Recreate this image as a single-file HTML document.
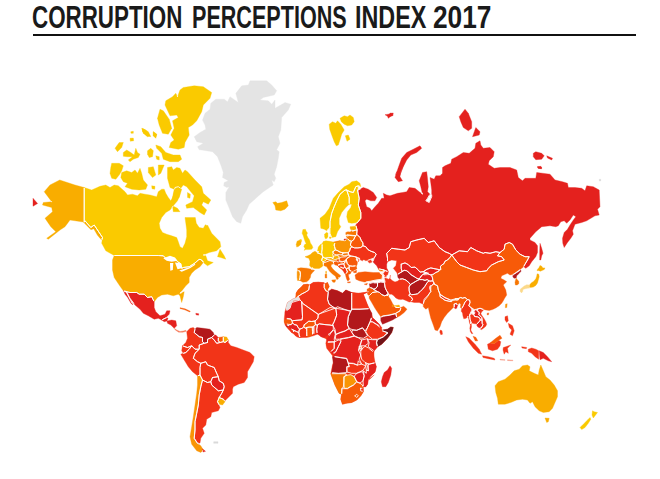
<!DOCTYPE html>
<html><head><meta charset="utf-8">
<style>
html,body{margin:0;padding:0;background:#fff;}
body{width:660px;height:479px;overflow:hidden;position:relative;font-family:"Liberation Sans",sans-serif;}
.w{position:absolute;top:0;font-weight:bold;font-size:31px;line-height:36px;color:#1a1a1a;white-space:nowrap;transform-origin:0 0;}
#u{position:absolute;left:33px;top:34px;width:603px;height:2px;background:#111}
#m{position:absolute;left:0;top:0}
</style></head><body>
<div class="w" style="left:32px;transform:scaleX(0.7215)">CORRUPTION</div>
<div class="w" style="left:192px;transform:scaleX(0.696)">PERCEPTIONS</div>
<div class="w" style="left:354.5px;transform:scaleX(0.754)">INDEX</div>
<div class="w" style="left:433px;transform:scaleX(0.848)">2017</div>
<div id="u"></div>
<svg id="m" width="660" height="479" viewBox="0 0 660 479">
<path d="M84.2,187.5 84.2,222.5 85.0,220.8 90.8,227.5 94.2,225.0 102.5,237.5 101.3,239.7 97.5,235.3 93.7,228.7 91.0,229.7 87.0,225.8 83.3,222.0 70.0,220.0 65.0,226.7 60.0,230.0 48.3,239.2 46.7,238.3 55.8,231.7 50.8,226.7 45.0,218.3 52.5,211.7 51.7,207.5 42.5,205.0 43.3,202.5 51.7,201.7 44.2,191.7 50.0,185.0 59.7,180.0 75.0,185.0Z" fill="#f9ad00" stroke="#f9ad00" stroke-width="0.35" stroke-linejoin="round"/>
<path d="M33.0,198.3 37.6,203.5 33.0,206.2Z" fill="#e4211e" stroke="#e4211e" stroke-width="0.35" stroke-linejoin="round"/>
<path d="M84.2,187.5 84.2,222.5 85.0,220.8 90.8,227.5 94.2,225.0 102.5,237.5 101.7,243.3 105.8,250.8 114.2,255.5 158.3,255.5 163.3,255.8 166.7,259.2 175.0,259.2 177.5,261.7 180.8,263.7 181.7,268.3 183.3,267.5 189.2,266.7 195.0,263.0 198.3,260.0 200.0,259.2 202.5,260.8 203.3,262.5 207.5,265.8 213.3,262.5 207.5,260.8 205.8,255.8 203.3,255.0 209.2,252.5 216.7,250.8 220.8,246.7 220.0,241.7 211.7,233.3 207.5,225.0 207.5,225.8 205.3,224.7 203.3,228.3 199.2,227.5 196.3,223.3 195.3,217.5 190.0,217.5 185.0,217.5 185.8,223.3 186.7,230.0 186.7,236.7 185.0,243.3 182.5,248.3 180.0,246.7 178.3,241.7 176.7,237.5 171.7,235.8 166.7,234.2 162.5,232.5 160.0,228.3 159.2,223.3 161.7,217.5 165.8,212.5 170.0,210.0 173.3,205.8 177.5,200.8 180.0,195.0 181.7,189.2 178.3,186.7 175.0,187.5 174.2,191.7 172.5,197.5 170.8,200.8 168.3,197.5 165.8,193.3 164.2,189.2 161.7,189.2 158.3,191.7 156.7,196.7 150.0,195.0 145.0,194.2 140.0,193.3 137.5,195.8 132.5,194.2 127.5,195.0 125.0,191.7 118.3,185.8 114.2,185.0 110.0,187.5 105.8,185.0 100.0,186.3 91.7,190.0Z" fill="#faca00" stroke="#faca00" stroke-width="0.35" stroke-linejoin="round"/>
<path d="M220.0,249.2 224.2,255.8 225.8,259.2 220.8,257.5 217.5,256.7Z" fill="#faca00" stroke="#faca00" stroke-width="0.35" stroke-linejoin="round"/>
<path d="M114.2,255.5 158.3,255.5 163.3,255.8 166.7,259.2 175.0,259.2 177.5,261.7 180.8,263.7 181.7,268.3 183.3,267.5 189.2,266.7 195.0,263.0 198.3,260.0 200.0,259.2 202.5,260.8 203.3,262.5 200.0,266.7 195.0,270.0 191.7,273.3 189.2,277.5 189.2,282.5 185.8,285.8 182.5,290.0 180.0,293.3 184.2,291.7 183.3,296.7 181.7,302.5 180.0,295.8 178.3,294.2 173.3,295.8 167.5,294.2 161.7,295.0 157.5,297.5 154.2,301.7 151.7,296.7 147.5,297.5 144.2,294.2 139.2,294.2 136.7,292.5 130.0,292.5 123.3,290.8 123.3,290.8 119.2,285.0 114.2,277.5 112.5,270.0 112.5,260.0 114.2,255.5Z" fill="#f9ad00" stroke="#f9ad00" stroke-width="0.35" stroke-linejoin="round"/>
<path d="M123.3,290.8 130.0,292.5 136.7,292.5 139.2,294.2 144.2,294.2 147.5,297.5 151.7,296.7 154.2,301.7 154.2,307.5 155.8,311.7 160.0,315.8 165.0,314.2 166.7,310.8 170.0,310.8 169.2,314.2 166.7,316.7 165.8,318.0 161.7,320.0 158.3,318.3 154.2,319.2 148.3,315.8 143.3,313.3 140.0,309.2 135.0,305.0 130.0,298.3 126.7,291.7Z" fill="#e4211e" stroke="#e4211e" stroke-width="0.35" stroke-linejoin="round"/>
<path d="M123.8,291.3 126.2,292.0 130.8,300.8 132.8,305.0 130.8,303.0 127.5,297.2 125.0,294.2Z" fill="#e4211e" stroke="#e4211e" stroke-width="0.35" stroke-linejoin="round"/>
<path d="M161.7,320.0 165.8,318.0 168.0,318.0 167.0,321.0 164.2,321.7Z" fill="#e4211e" stroke="#e4211e" stroke-width="0.35" stroke-linejoin="round"/>
<path d="M167.0,321.0 171.7,320.0 175.8,320.8 176.7,325.8 174.2,328.3 170.8,325.0 167.5,323.3Z" fill="#e4211e" stroke="#e4211e" stroke-width="0.35" stroke-linejoin="round"/>
<path d="M174.2,328.3 176.7,330.0 180.0,331.5 183.3,331.0 185.8,330.3 186.3,331.3 182.7,332.3 178.7,332.2 175.3,330.0Z" fill="#f57a5a" stroke="#f57a5a" stroke-width="0.35" stroke-linejoin="round"/>
<path d="M180.0,307.7 185.0,308.8 190.3,311.2 189.7,312.0 184.7,309.8 180.0,308.5Z" fill="#f75a08" stroke="#f75a08" stroke-width="0.35" stroke-linejoin="round"/>
<path d="M195.8,313.3 198.8,313.8 198.5,315.2 196.0,314.8Z" fill="#e4211e" stroke="#e4211e" stroke-width="0.35" stroke-linejoin="round"/>
<path d="M183.3,87.5 194.2,85.8 203.3,86.7 211.7,92.5 210.0,98.3 203.3,105.0 201.7,111.7 196.7,120.8 192.5,125.0 188.3,127.5 189.2,135.0 185.0,142.5 184.2,147.5 178.3,149.2 169.2,147.5 170.8,142.5 174.2,140.0 170.8,135.0 174.2,128.3 172.5,120.8 178.3,117.5 176.7,115.0 170.0,115.8 165.0,105.0 165.8,100.8 172.5,96.7 175.8,93.3 177.5,96.7 180.0,90.0Z" fill="#faca00" stroke="#faca00" stroke-width="0.35" stroke-linejoin="round"/>
<path d="M160.0,109.2 163.3,110.8 169.2,119.2 171.7,128.3 168.3,134.2 162.5,133.3 159.2,125.0 157.5,118.3Z" fill="#faca00" stroke="#faca00" stroke-width="0.35" stroke-linejoin="round"/>
<path d="M142.5,128.3 148.3,131.7 150.8,136.7 146.7,135.8 142.5,131.7Z" fill="#faca00" stroke="#faca00" stroke-width="0.35" stroke-linejoin="round"/>
<path d="M153.3,131.7 156.7,134.2 155.8,137.5 153.3,135.8Z" fill="#faca00" stroke="#faca00" stroke-width="0.35" stroke-linejoin="round"/>
<path d="M115.0,148.3 119.2,142.5 123.3,142.5 121.7,147.5 117.5,151.7Z" fill="#faca00" stroke="#faca00" stroke-width="0.35" stroke-linejoin="round"/>
<path d="M123.3,152.5 126.7,150.0 130.8,152.5 134.2,155.0 135.8,148.3 137.5,152.5 140.0,154.2 138.3,157.5 133.3,159.2 130.0,161.7 128.3,160.0 132.5,156.7 127.5,156.7 123.3,156.3Z" fill="#faca00" stroke="#faca00" stroke-width="0.35" stroke-linejoin="round"/>
<path d="M130.0,138.3 133.3,138.0 133.7,140.8 130.3,141.2Z" fill="#faca00" stroke="#faca00" stroke-width="0.35" stroke-linejoin="round"/>
<path d="M130.8,131.7 133.3,131.3 133.3,133.3 131.0,133.3Z" fill="#faca00" stroke="#faca00" stroke-width="0.35" stroke-linejoin="round"/>
<path d="M111.7,163.3 119.2,163.3 123.3,165.8 121.7,170.8 119.2,175.0 115.8,179.2 111.7,178.3 110.0,173.3 110.8,167.5Z" fill="#faca00" stroke="#faca00" stroke-width="0.35" stroke-linejoin="round"/>
<path d="M121.7,172.5 126.7,170.8 131.7,172.5 135.0,170.0 137.5,173.3 140.0,168.3 141.7,173.3 143.3,180.0 147.5,185.0 145.8,189.2 139.2,190.0 131.7,189.2 125.0,186.7 127.5,183.3 123.3,181.7 120.8,177.5Z" fill="#faca00" stroke="#faca00" stroke-width="0.35" stroke-linejoin="round"/>
<path d="M147.5,150.8 150.8,148.3 153.3,150.8 152.5,156.7 149.2,157.5 147.5,154.2Z" fill="#faca00" stroke="#faca00" stroke-width="0.35" stroke-linejoin="round"/>
<path d="M155.8,155.8 159.2,156.7 159.2,160.0 156.7,159.2Z" fill="#faca00" stroke="#faca00" stroke-width="0.35" stroke-linejoin="round"/>
<path d="M155.8,145.0 160.8,146.7 165.8,152.5 173.3,155.0 180.0,155.0 181.7,159.2 178.3,161.7 170.0,161.7 163.3,159.2 161.7,153.3 156.7,148.3Z" fill="#faca00" stroke="#faca00" stroke-width="0.35" stroke-linejoin="round"/>
<path d="M141.7,128.3 145.8,130.0 150.0,135.8 147.5,136.7 143.3,133.3Z" fill="#faca00" stroke="#faca00" stroke-width="0.35" stroke-linejoin="round"/>
<path d="M153.3,131.7 156.7,134.2 155.8,138.3 153.3,135.8Z" fill="#faca00" stroke="#faca00" stroke-width="0.35" stroke-linejoin="round"/>
<path d="M148.3,167.5 153.3,166.7 155.8,175.0 152.5,177.5 148.3,172.5Z" fill="#faca00" stroke="#faca00" stroke-width="0.35" stroke-linejoin="round"/>
<path d="M158.3,165.0 164.2,165.0 160.8,173.3 158.3,175.0Z" fill="#faca00" stroke="#faca00" stroke-width="0.35" stroke-linejoin="round"/>
<path d="M151.7,185.8 155.0,186.3 154.7,189.2 152.0,188.8Z" fill="#faca00" stroke="#faca00" stroke-width="0.35" stroke-linejoin="round"/>
<path d="M167.5,167.5 171.7,166.7 173.3,170.0 176.7,167.5 180.0,168.3 182.5,173.3 185.0,170.0 187.5,171.7 195.0,180.0 201.7,186.7 203.3,193.3 210.8,200.0 208.3,204.2 203.3,201.7 201.7,205.0 206.7,210.0 204.2,215.0 200.0,212.5 196.7,210.0 193.3,207.5 186.7,208.3 185.8,205.0 192.5,201.7 194.2,195.8 190.0,190.8 186.7,186.7 183.3,185.0 180.0,189.2 179.2,197.5 175.0,200.0 172.5,198.3 174.2,189.2 170.0,187.5 167.5,178.3Z" fill="#faca00" stroke="#faca00" stroke-width="0.35" stroke-linejoin="round"/>
<path d="M187.5,192.5 190.3,194.2 190.0,198.3 187.5,197.5Z" fill="#faca00" stroke="#faca00" stroke-width="0.35" stroke-linejoin="round"/>
<path d="M172.5,205.8 177.5,208.3 180.0,211.7 173.3,211.7Z" fill="#faca00" stroke="#faca00" stroke-width="0.35" stroke-linejoin="round"/>
<path d="M210.8,103.3 215.8,99.2 224.2,99.2 227.5,101.7 230.0,96.7 238.3,102.5 235.8,93.3 241.7,85.8 248.3,85.0 250.0,80.8 266.7,80.8 271.7,85.0 276.7,90.8 274.2,95.0 263.3,97.5 260.0,100.0 268.3,100.8 271.7,104.2 275.0,100.0 275.0,108.3 285.0,102.5 290.8,104.2 288.3,110.0 281.7,117.5 280.8,130.0 278.3,136.7 280.0,143.3 276.7,149.8 279.2,151.7 278.3,158.3 276.7,166.7 274.2,174.2 275.8,178.3 274.2,181.7 271.7,180.0 273.3,185.0 263.3,191.7 256.7,197.5 249.2,204.2 246.7,210.0 242.5,216.7 240.8,223.3 236.7,221.7 232.5,216.7 229.2,208.3 225.8,200.0 225.8,192.5 229.2,186.7 226.7,187.5 223.7,185.8 224.2,182.5 228.3,180.8 222.5,177.5 223.3,172.5 220.8,165.0 217.5,156.7 212.5,151.7 201.7,150.0 199.2,149.8 197.5,146.7 203.3,143.3 196.7,141.7 194.2,136.7 200.0,132.5 205.8,129.2 205.0,125.0 202.5,120.0 205.0,113.3 210.0,109.2Z" fill="#e4e4e4" stroke="#e4e4e4" stroke-width="0.35" stroke-linejoin="round"/>
<path d="M272.8,202.5 275.8,201.7 277.5,203.3 281.7,202.5 286.7,200.8 288.3,205.8 285.0,209.2 280.8,210.8 275.8,210.0 275.0,205.8Z" fill="#f9ad00" stroke="#f9ad00" stroke-width="0.35" stroke-linejoin="round"/>
<path d="M207.5,342.5 207.5,339.2 211.7,337.5 214.2,340.0 216.7,343.3 220.0,342.5 223.3,341.7 225.0,342.5 228.3,340.0 228.3,342.5 230.8,345.8 236.7,347.5 243.3,350.0 250.0,352.5 254.2,356.7 253.3,361.7 250.0,367.5 247.5,371.7 247.5,377.5 244.2,382.5 238.3,384.2 233.3,386.7 232.5,389.2 232.5,393.3 228.3,397.5 225.0,400.8 223.3,399.2 219.2,397.5 221.7,393.3 223.3,390.0 224.2,386.7 223.3,383.3 219.2,380.8 218.3,376.7 216.7,373.3 214.2,367.5 207.5,365.0 205.8,361.7 200.8,363.3 197.5,361.7 193.3,358.3 195.0,353.3 199.2,349.2 199.2,345.0 204.2,343.3Z" fill="#f23418" stroke="#f23418" stroke-width="0.35" stroke-linejoin="round"/>
<path d="M186.7,331.7 190.0,328.3 193.3,327.5 195.0,329.2 194.2,332.5 199.2,336.7 202.5,337.5 202.5,341.7 204.2,343.3 199.2,345.0 199.2,349.2 195.0,349.2 191.7,345.8 187.5,347.5 182.5,345.8 185.8,342.5 187.5,338.3Z" fill="#f23418" stroke="#f23418" stroke-width="0.35" stroke-linejoin="round"/>
<path d="M195.0,329.2 196.7,327.5 203.3,328.3 210.0,329.2 213.3,332.5 214.2,335.0 211.7,337.5 207.5,339.2 207.5,342.5 204.2,343.3 202.5,341.7 202.5,337.5 199.2,336.7 194.2,332.5Z" fill="#b2181b" stroke="#b2181b" stroke-width="0.35" stroke-linejoin="round"/>
<path d="M214.2,335.0 215.8,335.0 218.3,337.5 218.3,340.8 220.0,342.5 216.7,343.3 214.2,340.0 211.7,337.5Z" fill="#e4211e" stroke="#e4211e" stroke-width="0.35" stroke-linejoin="round"/>
<path d="M218.3,337.5 223.3,336.7 223.3,341.7 220.0,342.5 218.3,340.8Z" fill="#f75a08" stroke="#f75a08" stroke-width="0.35" stroke-linejoin="round"/>
<path d="M223.3,336.7 226.7,337.0 228.3,340.0 225.0,342.5 223.3,341.7Z" fill="#f9ad00" stroke="#f9ad00" stroke-width="0.35" stroke-linejoin="round"/>
<path d="M182.5,345.8 187.5,347.5 191.7,345.8 189.2,349.2 185.8,352.5 183.3,353.3 181.7,350.8Z" fill="#f23418" stroke="#f23418" stroke-width="0.35" stroke-linejoin="round"/>
<path d="M183.3,353.3 185.8,352.5 189.2,349.2 191.7,345.8 195.0,349.2 199.2,349.2 195.0,353.3 193.3,358.3 197.5,361.7 200.8,363.3 200.0,367.5 200.0,375.0 197.5,375.8 192.5,371.7 188.3,366.7 184.2,360.0 180.8,354.2Z" fill="#f23418" stroke="#f23418" stroke-width="0.35" stroke-linejoin="round"/>
<path d="M200.8,363.3 205.8,361.7 207.5,365.0 214.2,367.5 216.7,373.3 218.3,376.7 212.5,377.5 210.8,381.7 207.5,382.5 202.5,380.0 200.0,375.0 200.0,367.5Z" fill="#f23418" stroke="#f23418" stroke-width="0.35" stroke-linejoin="round"/>
<path d="M212.5,377.5 218.3,376.7 219.2,380.8 223.3,383.3 224.2,386.7 223.3,390.0 218.3,390.8 211.7,385.0 210.8,381.7Z" fill="#e4211e" stroke="#e4211e" stroke-width="0.35" stroke-linejoin="round"/>
<path d="M197.5,375.8 200.0,375.0 202.5,380.0 200.8,386.7 199.2,395.0 198.3,405.0 196.7,413.3 195.0,421.7 195.0,430.0 194.2,438.3 197.5,443.3 200.8,445.8 203.3,450.0 200.8,452.5 196.7,450.8 191.7,444.2 190.0,436.7 191.7,426.7 193.3,416.7 195.0,405.0 196.7,393.3 197.5,385.0Z" fill="#f99505" stroke="#f99505" stroke-width="0.35" stroke-linejoin="round"/>
<path d="M202.5,380.0 207.5,382.5 210.8,381.7 210.8,381.7 211.7,385.0 218.3,390.8 223.3,390.0 221.7,393.3 219.2,397.5 217.5,401.7 220.0,407.5 218.3,410.8 211.7,412.5 210.8,416.7 206.7,419.2 205.8,425.0 202.5,428.3 204.2,433.3 200.8,438.3 200.0,443.0 197.5,443.3 194.2,438.3 195.0,430.0 195.0,421.7 196.7,413.3 198.3,405.0 199.2,395.0 200.8,386.7Z" fill="#f23418" stroke="#f23418" stroke-width="0.35" stroke-linejoin="round"/>
<path d="M219.2,397.5 223.3,399.2 225.0,401.7 222.5,405.0 219.2,404.2 217.5,401.7Z" fill="#f9ad00" stroke="#f9ad00" stroke-width="0.35" stroke-linejoin="round"/>
<path d="M202.5,448.8 205.5,451.3 203.0,452.0Z" fill="#e4211e" stroke="#e4211e" stroke-width="0.35" stroke-linejoin="round"/>
<path d="M213.7,441.7 218.0,441.7 218.0,443.3 213.7,443.3Z" fill="#d9d9d9" stroke="#d9d9d9" stroke-width="0.35" stroke-linejoin="round"/>
<path d="M355.8,225.0 357.5,222.5 360.8,218.3 360.8,212.5 358.3,205.0 359.2,198.3 357.5,190.0 358.3,190.0 363.3,187.5 368.3,189.2 373.3,192.5 376.7,197.5 375.0,200.8 370.8,200.8 366.7,199.2 365.0,200.8 366.7,206.7 370.0,208.3 371.7,210.8 375.0,206.7 378.3,203.3 381.7,198.3 384.2,198.3 383.3,193.3 386.7,195.0 390.0,195.8 397.5,193.3 402.5,192.5 406.7,191.7 409.2,187.5 415.0,188.3 419.2,191.7 422.5,194.2 420.8,186.7 419.2,180.8 422.5,172.5 426.7,171.7 427.5,178.3 428.3,186.7 427.5,191.7 430.0,194.2 427.5,198.3 425.8,200.8 429.2,202.5 431.7,196.7 431.7,190.0 430.8,183.3 430.0,177.5 434.2,179.2 435.8,175.8 440.0,175.8 442.5,173.3 442.5,167.5 445.0,165.8 450.8,163.3 451.7,159.2 456.7,156.7 463.3,152.5 469.2,153.3 475.0,148.3 475.8,143.3 480.0,140.8 480.8,145.0 483.3,148.3 490.0,147.5 494.2,151.7 493.3,156.7 489.2,160.8 488.3,164.2 494.2,168.3 500.0,167.5 510.0,167.5 516.7,170.0 518.3,177.5 522.5,180.8 525.0,178.3 535.8,178.3 536.7,172.5 550.0,174.2 555.0,180.0 562.5,181.7 567.5,183.3 568.3,187.5 575.0,187.5 581.7,188.3 585.0,190.8 586.7,185.8 593.3,186.7 599.2,190.0 600.0,206.7 597.5,209.2 599.2,215.0 595.0,215.8 586.7,220.8 581.7,222.5 575.0,224.2 572.5,230.8 573.3,234.2 570.8,238.3 567.5,242.5 564.2,247.5 562.8,243.3 562.5,238.3 564.2,232.5 567.5,229.2 570.0,225.0 573.3,220.0 575.8,216.7 573.3,215.0 570.0,220.0 566.7,223.3 564.2,220.8 560.8,221.7 558.3,225.8 555.8,226.7 550.0,225.8 541.7,226.7 535.8,231.7 530.0,238.3 530.0,240.0 535.0,242.5 537.5,245.8 537.5,252.5 535.8,256.7 531.7,261.7 529.2,265.8 525.8,268.3 523.7,266.7 525.0,264.2 527.5,260.0 529.2,256.7 525.0,256.7 520.0,254.2 515.8,250.0 512.5,244.2 509.2,242.5 505.0,244.2 504.2,249.2 500.0,252.5 495.8,251.7 490.0,253.3 485.0,252.5 483.3,253.3 476.7,250.8 470.8,247.5 467.5,251.7 459.2,250.8 451.7,255.0 449.2,253.3 445.0,251.7 439.2,247.5 434.2,240.8 428.3,242.5 424.2,238.3 416.7,240.0 410.8,241.7 409.2,247.5 405.0,250.0 398.3,249.2 391.7,248.3 386.7,253.3 387.5,258.3 387.5,261.7 386.7,264.2 386.7,268.3 388.3,271.7 385.8,270.8 383.8,270.0 380.4,269.2 378.3,268.8 376.7,265.8 374.2,263.3 372.9,261.7 374.2,258.3 375.0,256.7 376.2,254.2 374.6,252.5 370.8,251.2 367.9,249.6 365.8,246.7 362.9,245.8 362.9,242.9 361.2,240.4 360.0,237.5 358.3,235.8 356.7,234.2 357.1,230.0 355.8,225.0Z" fill="#e4211e" stroke="#e4211e" stroke-width="0.35" stroke-linejoin="round"/>
<path d="M420.0,145.8 421.7,148.3 416.7,152.5 410.8,155.0 406.7,160.0 403.3,166.7 400.0,174.8 403.3,165.0 400.8,171.7 400.0,176.7 402.5,180.8 398.3,181.7 395.0,177.5 396.7,171.7 395.8,174.8 399.2,165.0 401.7,158.3 406.7,152.5 413.3,149.2Z" fill="#e4211e" stroke="#e4211e" stroke-width="0.35" stroke-linejoin="round"/>
<path d="M459.2,116.7 465.0,109.2 468.3,113.3 471.7,121.7 471.7,128.3 468.3,130.8 463.3,127.5 460.8,121.7Z" fill="#e4211e" stroke="#e4211e" stroke-width="0.35" stroke-linejoin="round"/>
<path d="M472.5,136.7 475.8,127.5 480.0,131.7 479.2,135.0Z" fill="#e4211e" stroke="#e4211e" stroke-width="0.35" stroke-linejoin="round"/>
<path d="M533.3,153.3 535.8,151.7 541.7,153.3 544.2,155.8 541.7,159.2 535.8,159.7 533.3,156.7Z" fill="#e4211e" stroke="#e4211e" stroke-width="0.35" stroke-linejoin="round"/>
<path d="M546.7,155.8 552.5,158.3 551.7,160.0 547.5,158.0Z" fill="#e4211e" stroke="#e4211e" stroke-width="0.35" stroke-linejoin="round"/>
<path d="M537.5,166.7 540.8,166.3 541.7,168.7 538.3,168.3Z" fill="#e4211e" stroke="#e4211e" stroke-width="0.35" stroke-linejoin="round"/>
<path d="M537.5,166.7 541.7,167.0 541.3,168.7 538.0,168.3Z" fill="#e4211e" stroke="#e4211e" stroke-width="0.35" stroke-linejoin="round"/>
<path d="M540.0,243.3 541.7,248.3 543.0,253.3 541.7,255.8 540.8,260.0 539.7,260.0 539.7,251.7Z" fill="#e4211e" stroke="#e4211e" stroke-width="0.35" stroke-linejoin="round"/>
<path d="M385.0,114.7 388.3,114.2 390.8,113.3 393.3,115.0 390.8,116.3 388.3,118.3 387.5,116.3Z" fill="#e4211e" stroke="#e4211e" stroke-width="0.35" stroke-linejoin="round"/>
<path d="M390.0,113.3 393.3,113.0 392.5,115.8 390.0,116.3Z" fill="#e4211e" stroke="#e4211e" stroke-width="0.35" stroke-linejoin="round"/>
<path d="M599.3,179.3 600.7,179.3 600.7,181.0 599.3,181.0Z" fill="#d8d8d8" stroke="#d8d8d8" stroke-width="0.35" stroke-linejoin="round"/>
<path d="M329.2,124.2 332.5,121.7 335.8,123.3 337.5,120.8 340.8,124.2 344.2,130.0 341.7,134.2 340.0,140.0 338.3,145.0 336.3,145.8 334.2,141.7 331.7,135.0 329.7,129.2Z" fill="#faca00" stroke="#faca00" stroke-width="0.35" stroke-linejoin="round"/>
<path d="M340.0,118.3 344.2,115.8 347.5,116.7 350.0,115.0 353.3,117.5 354.2,121.7 351.7,125.0 347.5,125.8 344.2,124.2 341.3,121.7Z" fill="#faca00" stroke="#faca00" stroke-width="0.35" stroke-linejoin="round"/>
<path d="M345.3,135.8 348.3,135.0 350.0,139.2 347.0,141.3Z" fill="#faca00" stroke="#faca00" stroke-width="0.35" stroke-linejoin="round"/>
<path d="M451.7,255.0 449.2,253.3 445.0,251.7 439.2,247.5 434.2,240.8 428.3,242.5 424.2,238.3 416.7,240.0 410.8,241.7 409.2,247.5 405.0,250.0 398.3,249.2 391.7,248.3 386.7,253.3 387.5,258.3 387.5,261.7 391.7,260.0 396.7,260.8 395.8,265.8 393.3,268.3 396.7,272.5 397.5,274.3 400.0,272.9 402.1,271.5 401.2,268.3 401.2,264.2 405.0,262.9 408.3,264.6 411.2,267.5 415.0,267.1 417.9,269.6 420.0,272.1 423.3,271.7 427.1,269.2 430.8,267.9 435.0,268.8 439.2,269.6 440.8,269.6 440.4,266.7 441.7,265.0 443.8,263.8 445.0,261.2 447.5,260.0 449.9,257.5Z" fill="#f23418" stroke="#f23418" stroke-width="0.35" stroke-linejoin="round"/>
<path d="M451.7,255.0 459.2,250.8 467.5,251.7 470.8,247.5 476.7,250.8 483.3,253.3 485.0,252.5 490.0,253.3 495.8,251.7 500.0,252.5 497.5,255.8 501.7,256.7 504.2,260.0 498.3,261.7 491.7,265.0 488.3,268.3 486.7,270.8 480.0,271.7 473.3,270.0 466.7,267.5 460.0,265.0 456.7,261.7 454.2,258.3Z" fill="#f23418" stroke="#f23418" stroke-width="0.35" stroke-linejoin="round"/>
<path d="M434.2,283.3 432.9,280.8 432.5,277.9 431.7,275.8 433.3,274.2 435.8,272.5 438.8,271.2 439.2,270.0 440.8,269.6 440.4,266.7 441.7,265.0 443.8,263.8 445.0,261.2 447.5,260.0 449.9,257.5 451.7,255.0 454.2,258.3 456.7,261.7 460.0,265.0 466.7,267.5 473.3,270.0 480.0,271.7 486.7,270.8 488.3,268.3 491.7,265.0 498.3,261.7 504.2,260.0 501.7,256.7 497.5,255.8 500.0,252.5 504.2,249.2 505.0,244.2 509.2,242.5 512.5,244.2 515.8,250.0 520.0,254.2 525.0,256.7 529.2,256.7 527.5,260.0 525.0,264.2 523.7,266.7 521.7,268.3 518.3,270.8 515.0,273.3 513.3,274.2 510.0,275.0 507.5,273.3 501.7,275.8 500.8,278.3 504.2,280.0 506.7,281.7 505.0,283.3 503.3,285.0 505.8,290.0 506.7,295.0 504.6,298.3 503.3,300.8 501.7,303.3 499.2,305.8 495.8,307.9 492.5,309.6 489.2,310.4 485.8,310.0 482.9,309.2 480.0,308.2 477.5,309.0 475.8,309.4 474.2,309.6 471.2,307.5 468.8,305.8 470.0,302.5 469.6,300.0 467.5,299.6 465.0,297.5 462.5,298.2 460.8,297.5 458.3,298.5 455.4,298.8 450.8,300.0 445.0,297.5 440.0,294.2 438.3,290.0 437.5,285.8 433.3,283.7Z" fill="#f75a08" stroke="#f75a08" stroke-width="0.35" stroke-linejoin="round"/>
<path d="M487.1,313.3 488.8,312.9 488.5,314.8 487.2,314.9Z" fill="#f75a08" stroke="#f75a08" stroke-width="0.35" stroke-linejoin="round"/>
<path d="M505.5,304.2 507.2,303.7 506.8,307.5 505.3,307.7Z" fill="#f99505" stroke="#f99505" stroke-width="0.35" stroke-linejoin="round"/>
<path d="M512.9,275.4 514.6,273.8 516.7,272.5 518.8,271.2 520.4,270.0 521.2,271.2 520.0,272.3 518.3,274.2 516.7,275.8 516.2,277.9 514.2,278.3 512.9,277.1Z" fill="#b2181b" stroke="#b2181b" stroke-width="0.35" stroke-linejoin="round"/>
<path d="M515.4,280.4 516.2,278.2 517.1,279.6 518.8,281.2 518.8,283.8 517.1,285.0 515.4,285.0 515.0,282.5Z" fill="#f77602" stroke="#f77602" stroke-width="0.35" stroke-linejoin="round"/>
<path d="M538.8,267.9 540.0,265.4 541.7,266.2 542.9,267.9 545.0,267.9 544.2,269.6 542.1,270.4 540.4,271.2 538.3,270.4 537.1,270.8 537.5,269.2Z" fill="#f9ad00" stroke="#f9ad00" stroke-width="0.35" stroke-linejoin="round"/>
<path d="M537.1,273.8 538.8,274.2 539.2,276.7 538.3,280.0 537.5,282.9 535.8,285.4 533.3,287.1 530.4,287.5 529.2,286.5 529.6,285.0 531.2,282.9 533.8,281.2 535.8,278.8 536.7,276.2Z" fill="#f9ad00" stroke="#f9ad00" stroke-width="0.35" stroke-linejoin="round"/>
<path d="M529.6,285.0 526.7,284.8 524.2,286.0 522.1,287.7 520.4,289.0 520.0,291.2 521.5,292.9 522.7,291.5 522.9,289.6 525.0,288.8 527.5,288.3 530.0,287.9 529.2,286.5Z" fill="#fbd98a" stroke="#fbd98a" stroke-width="0.35" stroke-linejoin="round"/>
<path d="M423.3,303.3 424.2,299.2 427.5,295.8 430.8,291.7 430.8,286.7 433.3,283.7 437.5,285.8 438.3,290.0 440.0,294.2 440.0,296.7 445.0,300.3 451.2,301.7 451.7,301.3 453.0,300.3 455.7,300.0 458.3,299.8 458.3,298.5 460.8,297.5 462.5,298.2 465.0,297.5 467.5,299.6 465.0,302.1 463.3,305.8 461.7,308.8 460.4,307.5 460.8,304.2 459.2,302.9 457.5,305.4 456.2,303.3 454.2,304.2 454.2,306.7 453.3,307.5 450.8,310.0 447.5,313.3 444.2,317.5 441.7,321.7 440.0,326.7 437.5,330.8 435.0,330.0 433.3,325.0 430.8,318.3 429.2,311.7 428.3,307.5 425.8,309.2 423.3,306.7Z" fill="#f75a08" stroke="#f75a08" stroke-width="0.35" stroke-linejoin="round"/>
<path d="M440.0,294.5 445.0,297.8 450.8,300.3 451.2,301.7 445.0,300.3 440.0,296.7Z" fill="#f23418" stroke="#f23418" stroke-width="0.35" stroke-linejoin="round"/>
<path d="M455.4,298.8 458.3,298.5 458.3,299.8 455.7,300.0Z" fill="#f99505" stroke="#f99505" stroke-width="0.35" stroke-linejoin="round"/>
<path d="M454.2,304.2 456.2,303.3 457.5,305.4 456.7,308.3 455.0,308.8 454.2,306.7Z" fill="#e4211e" stroke="#e4211e" stroke-width="0.35" stroke-linejoin="round"/>
<path d="M440.3,330.0 442.0,330.8 442.5,334.2 440.8,334.7 439.7,332.0Z" fill="#f23418" stroke="#f23418" stroke-width="0.35" stroke-linejoin="round"/>
<path d="M429.2,280.8 429.6,281.2 432.5,280.8 434.2,283.3 431.7,285.8 430.0,285.8 429.6,288.3 430.8,291.7 430.0,292.5 427.5,296.7 424.2,300.8 423.3,304.2 419.2,302.5 414.2,302.5 410.8,301.7 412.5,299.5 411.7,297.5 408.7,295.3 410.0,293.7 411.7,294.7 415.3,294.3 417.5,293.8 420.0,291.7 422.5,289.2 424.6,286.7 426.2,284.2 427.1,282.5Z" fill="#f23418" stroke="#f23418" stroke-width="0.35" stroke-linejoin="round"/>
<path d="M410.4,284.6 413.3,282.9 416.2,281.2 419.6,279.6 422.5,279.6 425.0,280.4 427.1,279.6 429.2,280.8 427.1,282.5 426.2,284.2 424.6,286.7 422.5,289.2 420.0,291.7 417.5,293.8 415.3,294.3 411.7,294.7 410.0,293.7 409.2,290.8 409.0,287.0Z" fill="#b2181b" stroke="#b2181b" stroke-width="0.35" stroke-linejoin="round"/>
<path d="M397.5,274.6 400.0,272.9 402.1,271.7 404.2,270.4 406.7,270.8 408.8,272.5 411.2,275.0 414.2,276.7 416.7,278.3 419.2,279.2 416.2,281.0 413.3,282.8 410.4,284.6 408.8,282.5 405.8,280.0 402.5,278.8 399.6,279.2 397.9,277.5Z" fill="#b2181b" stroke="#b2181b" stroke-width="0.35" stroke-linejoin="round"/>
<path d="M401.2,264.2 405.0,262.9 408.3,264.6 411.2,267.5 415.0,267.1 417.9,269.6 420.0,272.1 423.3,271.7 426.7,272.9 422.5,274.6 420.8,276.7 419.2,279.0 416.7,278.2 414.2,276.5 411.2,274.8 408.8,272.3 406.7,270.7 404.2,270.2 402.1,271.5 401.2,268.3Z" fill="#e4211e" stroke="#e4211e" stroke-width="0.35" stroke-linejoin="round"/>
<path d="M423.3,271.7 427.1,269.2 430.8,267.9 435.0,268.8 439.2,269.6 439.2,270.0 438.8,271.2 435.8,272.5 433.3,274.2 430.0,274.8 428.3,273.9 426.7,272.9Z" fill="#e4211e" stroke="#e4211e" stroke-width="0.35" stroke-linejoin="round"/>
<path d="M420.8,276.7 422.5,274.6 426.7,272.9 428.3,273.9 430.0,274.8 431.7,275.8 432.5,277.9 432.9,280.8 429.6,281.2 429.2,280.8 427.1,279.6 425.0,280.4 422.5,279.6 419.6,279.6 419.2,279.0Z" fill="#e4211e" stroke="#e4211e" stroke-width="0.35" stroke-linejoin="round"/>
<path d="M423.5,272.7 428.2,272.2 429.0,274.6 424.3,275.3Z" fill="#f4a9a6" stroke="#f4a9a6" stroke-width="0.35" stroke-linejoin="round"/>
<path d="M369.2,295.8 372.5,292.5 377.5,291.7 379.6,292.5 381.7,294.6 384.6,295.8 387.1,295.0 388.5,296.5 390.4,299.2 391.7,301.7 392.9,304.2 395.0,306.7 395.8,305.8 395.8,307.5 400.0,307.5 400.8,308.3 400.0,310.8 395.8,313.3 389.2,315.0 383.3,315.8 380.8,316.7 378.3,313.3 375.0,308.3 371.7,302.5 369.2,298.3Z" fill="#f75a08" stroke="#f75a08" stroke-width="0.35" stroke-linejoin="round"/>
<path d="M367.0,289.2 370.0,287.5 372.5,288.3 373.3,289.2 377.5,291.7 372.5,292.5 369.2,295.8 367.5,294.2Z" fill="#f75a08" stroke="#f75a08" stroke-width="0.35" stroke-linejoin="round"/>
<path d="M369.2,283.7 373.3,282.5 373.8,282.9 377.5,282.9 377.5,286.2 375.4,288.8 373.3,289.2 372.5,288.3 370.0,287.5Z" fill="#b2181b" stroke="#b2181b" stroke-width="0.35" stroke-linejoin="round"/>
<path d="M377.5,282.9 380.8,282.1 383.8,282.5 384.6,283.8 385.0,287.1 386.2,290.0 387.9,292.9 387.1,295.0 384.6,295.8 381.7,294.6 379.6,292.5 377.5,291.7 373.3,289.2 375.4,288.8 377.5,286.2Z" fill="#b2181b" stroke="#b2181b" stroke-width="0.35" stroke-linejoin="round"/>
<path d="M387.1,294.8 388.8,295.0 388.5,296.5Z" fill="#f75a08" stroke="#f75a08" stroke-width="0.35" stroke-linejoin="round"/>
<path d="M383.8,278.3 385.4,277.9 388.8,279.2 390.0,277.9 390.4,275.0 390.0,278.3 392.1,280.6 395.0,281.9 397.9,281.1 399.6,279.2 402.5,278.8 405.8,280.0 408.8,282.5 410.4,284.6 409.0,287.1 409.2,290.8 410.0,293.8 408.8,295.4 411.7,297.5 412.5,299.6 410.8,301.7 409.2,302.1 405.8,300.4 402.9,299.2 400.8,299.6 398.3,299.2 395.8,297.9 393.8,295.8 391.7,294.2 389.6,294.2 387.9,292.9 386.2,290.0 385.0,287.1 384.6,283.8 385.0,281.2Z" fill="#f23418" stroke="#f23418" stroke-width="0.35" stroke-linejoin="round"/>
<path d="M394.2,305.8 399.2,305.0 400.0,307.5 395.8,307.5Z" fill="#f9ad00" stroke="#f9ad00" stroke-width="0.35" stroke-linejoin="round"/>
<path d="M400.8,307.5 403.7,306.3 407.0,309.2 404.2,312.5 400.0,315.8 396.7,317.5 395.8,313.3 400.0,310.8Z" fill="#f75a08" stroke="#f75a08" stroke-width="0.35" stroke-linejoin="round"/>
<path d="M380.8,317.5 383.3,316.2 389.2,315.3 395.8,313.7 396.7,317.5 392.5,320.0 386.7,322.5 382.5,324.2 380.8,320.8Z" fill="#b2181b" stroke="#b2181b" stroke-width="0.35" stroke-linejoin="round"/>
<path d="M392.0,305.0 393.3,304.7 393.7,306.7 392.3,306.7Z" fill="#f99505" stroke="#f99505" stroke-width="0.35" stroke-linejoin="round"/>
<path d="M355.0,275.0 358.3,272.5 365.0,271.7 373.3,272.5 379.2,272.5 382.5,275.0 382.0,279.2 375.8,280.0 370.0,281.3 364.2,282.0 359.2,280.8 355.8,279.2Z" fill="#f75a08" stroke="#f75a08" stroke-width="0.35" stroke-linejoin="round"/>
<path d="M353.3,270.8 356.7,270.3 356.3,272.7 353.7,272.7Z" fill="#f75a08" stroke="#f75a08" stroke-width="0.35" stroke-linejoin="round"/>
<path d="M378.3,268.8 380.4,269.2 383.8,270.0 384.2,271.7 381.7,271.7 379.2,270.4Z" fill="#f77602" stroke="#f77602" stroke-width="0.35" stroke-linejoin="round"/>
<path d="M383.8,270.0 385.8,270.8 388.3,271.7 386.7,268.3 388.3,272.5 387.5,275.0 384.2,276.7 386.7,276.8 384.2,275.6 382.9,273.8 384.2,271.7Z" fill="#f23418" stroke="#f23418" stroke-width="0.35" stroke-linejoin="round"/>
<path d="M364.2,284.2 367.5,283.3 366.7,285.0Z" fill="#f75a08" stroke="#f75a08" stroke-width="0.35" stroke-linejoin="round"/>
<path d="M461.7,308.8 463.3,305.8 465.0,302.1 467.5,299.6 469.6,300.0 470.0,302.5 468.8,305.8 470.8,307.5 472.1,310.0 470.8,312.1 469.6,315.0 470.0,319.2 470.8,321.7 470.4,325.0 469.6,323.3 468.8,319.2 467.9,316.2 466.2,318.3 463.8,318.8 462.9,315.8 462.5,312.9 461.2,311.2Z" fill="#f23418" stroke="#f23418" stroke-width="0.35" stroke-linejoin="round"/>
<path d="M469.6,315.0 471.2,313.8 473.8,314.6 474.6,316.5 477.5,316.8 479.6,317.9 480.4,320.0 479.2,321.7 477.1,323.8 475.0,323.8 472.5,323.3 471.2,322.5 471.5,326.7 470.8,330.0 471.8,332.1 472.9,333.5 471.8,333.8 470.4,331.7 469.8,328.3 470.4,325.0 470.8,321.7 470.0,319.2Z" fill="#f23418" stroke="#f23418" stroke-width="0.35" stroke-linejoin="round"/>
<path d="M473.8,311.2 475.8,309.6 477.5,310.8 479.3,312.9 478.8,314.6 480.0,315.8 481.7,317.5 482.1,320.0 480.4,320.0 479.6,317.9 477.5,316.8 474.6,316.5 473.8,314.6 475.0,312.9Z" fill="#e4211e" stroke="#e4211e" stroke-width="0.35" stroke-linejoin="round"/>
<path d="M477.5,309.2 480.0,308.3 482.5,309.2 483.3,310.4 481.7,311.7 480.8,313.8 482.1,315.8 484.2,318.8 485.8,321.7 486.7,324.2 485.8,326.2 483.8,327.9 481.7,329.6 480.4,329.2 482.1,326.7 482.9,324.6 482.1,323.3 482.1,320.0 481.7,317.5 480.0,315.8 478.8,314.6 479.3,312.9 477.5,310.8Z" fill="#f23418" stroke="#f23418" stroke-width="0.35" stroke-linejoin="round"/>
<path d="M477.1,323.8 479.2,321.7 480.4,320.0 482.1,320.0 482.1,323.3 482.9,324.6 482.1,326.7 480.0,327.9 477.9,327.1 476.8,325.4Z" fill="#e4211e" stroke="#e4211e" stroke-width="0.35" stroke-linejoin="round"/>
<path d="M473.0,336.3 475.8,337.2 477.8,340.8 475.3,341.0Z" fill="#f75a08" stroke="#f75a08" stroke-width="0.35" stroke-linejoin="round"/>
<path d="M465.8,336.7 469.2,338.3 475.0,344.2 479.2,349.2 481.7,354.2 478.3,353.3 473.3,348.3 468.3,341.7Z" fill="#f23418" stroke="#f23418" stroke-width="0.35" stroke-linejoin="round"/>
<path d="M482.5,355.8 488.3,356.7 494.2,358.3 495.0,360.0 488.3,358.7 483.0,357.5Z" fill="#f23418" stroke="#f23418" stroke-width="0.35" stroke-linejoin="round"/>
<path d="M487.5,344.2 490.0,343.0 494.2,343.7 498.7,340.3 500.8,341.7 500.0,345.8 497.5,349.2 492.5,350.8 488.3,349.2Z" fill="#f23418" stroke="#f23418" stroke-width="0.35" stroke-linejoin="round"/>
<path d="M490.0,343.0 495.8,338.3 500.0,335.3 502.0,338.3 498.7,340.3 494.2,343.7Z" fill="#f75a08" stroke="#f75a08" stroke-width="0.35" stroke-linejoin="round"/>
<path d="M503.3,347.5 505.8,346.7 510.8,345.0 507.5,348.3 508.3,353.3 505.8,351.7 504.2,354.2 503.0,350.0Z" fill="#f23418" stroke="#f23418" stroke-width="0.35" stroke-linejoin="round"/>
<path d="M505.0,316.7 507.5,315.8 508.3,320.8 506.7,322.5 505.0,320.0Z" fill="#f23418" stroke="#f23418" stroke-width="0.35" stroke-linejoin="round"/>
<path d="M508.3,323.3 512.5,325.8 514.2,330.8 512.5,335.8 510.0,334.2 511.7,330.0 509.2,327.5Z" fill="#f23418" stroke="#f23418" stroke-width="0.35" stroke-linejoin="round"/>
<path d="M528.3,349.2 531.7,348.0 535.8,349.2 538.7,350.8 538.7,359.2 535.0,356.7 531.7,353.3 528.3,351.7Z" fill="#f23418" stroke="#f23418" stroke-width="0.35" stroke-linejoin="round"/>
<path d="M539.2,350.8 543.3,352.5 547.5,356.7 551.7,361.7 548.3,360.8 543.3,358.3 540.0,359.7Z" fill="#e4211e" stroke="#e4211e" stroke-width="0.35" stroke-linejoin="round"/>
<path d="M521.7,346.7 526.7,347.5 526.3,348.7 522.0,348.0Z" fill="#f23418" stroke="#f23418" stroke-width="0.35" stroke-linejoin="round"/>
<path d="M500.0,359.3 505.0,359.7 505.0,360.3 500.0,360.0Z" fill="#f7907c" stroke="#f7907c" stroke-width="0.35" stroke-linejoin="round"/>
<path d="M507.5,359.8 513.0,360.2 512.8,360.8 507.5,360.5Z" fill="#f7907c" stroke="#f7907c" stroke-width="0.35" stroke-linejoin="round"/>
<path d="M495.0,385.8 498.3,381.7 505.0,379.2 510.0,375.0 514.2,370.8 519.2,369.2 522.5,365.8 527.5,365.0 530.0,366.7 529.2,370.8 534.2,373.3 538.3,375.0 539.2,370.0 540.8,365.0 543.3,370.8 545.8,376.7 550.0,380.0 554.2,385.0 557.5,390.8 557.5,396.7 555.0,402.5 552.5,408.3 549.2,411.7 543.3,412.5 539.2,410.8 535.0,406.7 532.5,401.7 530.0,403.3 527.5,400.0 522.5,399.2 516.7,400.0 510.8,402.5 505.0,404.2 498.3,404.2 497.5,398.3 495.8,392.5Z" fill="#f9ad00" stroke="#f9ad00" stroke-width="0.35" stroke-linejoin="round"/>
<path d="M545.0,418.0 549.2,418.3 548.3,421.7 546.7,422.5Z" fill="#f9ad00" stroke="#f9ad00" stroke-width="0.35" stroke-linejoin="round"/>
<path d="M592.5,410.8 594.2,411.7 597.5,412.5 595.0,415.8 593.3,418.0 592.0,415.0Z" fill="#faca00" stroke="#faca00" stroke-width="0.35" stroke-linejoin="round"/>
<path d="M580.0,427.5 583.3,424.2 587.5,420.0 590.0,417.5 590.8,419.2 588.3,423.3 585.0,427.5 581.7,429.5Z" fill="#faca00" stroke="#faca00" stroke-width="0.35" stroke-linejoin="round"/>
<path d="M295.8,297.8 296.2,293.0 298.3,289.7 301.7,286.7 303.3,284.7 307.5,284.3 309.5,285.0 313.3,282.5 318.3,282.2 324.2,282.8 324.2,284.2 327.5,282.5 329.2,286.7 327.5,289.2 328.3,291.7 331.7,289.2 337.5,290.8 342.5,293.3 345.8,290.0 351.7,292.5 358.3,293.3 365.0,292.5 368.3,291.7 363.3,294.2 367.5,305.0 369.2,308.7 371.7,313.3 372.5,317.5 374.2,319.2 379.2,324.2 380.8,326.7 382.0,327.5 381.3,329.7 382.5,330.0 387.5,329.2 390.8,327.0 393.3,327.5 391.7,332.5 387.5,338.3 381.7,344.2 377.5,346.7 374.2,350.8 373.3,359.8 375.0,362.5 376.3,366.7 375.0,372.0 370.0,376.7 369.2,379.8 374.2,375.0 368.3,379.2 367.5,384.2 365.8,386.7 363.3,386.7 363.3,391.7 360.8,395.8 356.7,400.0 351.7,402.5 345.8,403.3 342.5,404.2 340.8,399.2 341.7,394.2 339.2,393.3 335.0,385.0 332.5,378.3 330.8,373.7 332.5,365.0 334.2,360.0 333.3,361.7 332.5,355.8 330.0,352.5 326.7,348.3 325.8,343.3 326.7,339.2 323.3,337.5 320.0,335.8 317.5,334.2 313.3,335.8 306.7,337.5 300.0,337.5 295.0,335.0 291.7,332.5 288.3,329.2 285.0,325.0 284.2,319.2 285.0,311.7 285.8,308.3 287.5,302.5 292.5,299.2Z" fill="#f23418" stroke="#f23418" stroke-width="0.35" stroke-linejoin="round"/>
<path d="M285.8,308.3 287.5,302.5 292.5,299.2 295.8,297.8 298.3,296.3 300.0,300.0 293.3,300.8 291.7,306.7 286.7,311.7Z" fill="#e4e4e4" stroke="#e4e4e4" stroke-width="0.35" stroke-linejoin="round"/>
<path d="M295.8,297.8 296.2,293.0 298.3,289.7 301.7,286.7 303.3,284.7 307.5,284.3 309.5,285.0 308.7,290.0 305.3,292.2 302.0,293.8 298.3,296.3Z" fill="#f75a08" stroke="#f75a08" stroke-width="0.35" stroke-linejoin="round"/>
<path d="M298.3,296.3 302.0,293.8 305.3,292.2 308.7,290.0 309.5,285.0 313.3,282.5 318.3,282.2 324.2,282.8 324.2,287.5 325.8,290.8 328.3,291.7 327.5,299.2 329.2,304.2 335.0,308.3 318.3,314.2 302.5,303.3 301.7,301.7 300.0,300.0Z" fill="#f23418" stroke="#f23418" stroke-width="0.35" stroke-linejoin="round"/>
<path d="M324.2,284.2 327.5,282.5 329.2,286.7 327.5,289.2 328.3,291.7 325.8,290.8 324.2,287.5Z" fill="#f75a08" stroke="#f75a08" stroke-width="0.35" stroke-linejoin="round"/>
<path d="M328.3,291.7 331.7,289.2 337.5,290.8 342.5,293.3 345.8,290.0 351.7,292.5 351.7,309.2 350.8,311.7 337.5,306.7 335.0,308.3 329.2,304.2 327.5,299.2Z" fill="#b2181b" stroke="#b2181b" stroke-width="0.35" stroke-linejoin="round"/>
<path d="M351.7,292.5 358.3,293.3 365.0,292.5 368.3,291.7 363.3,294.2 367.5,305.0 369.2,308.7 360.0,309.2 351.7,309.2Z" fill="#f23418" stroke="#f23418" stroke-width="0.35" stroke-linejoin="round"/>
<path d="M285.0,311.7 290.0,308.3 291.7,302.5 300.0,300.0 301.7,301.7 302.5,316.7 302.1,319.8 292.5,320.7 290.8,318.8 286.2,318.3Z" fill="#e4211e" stroke="#e4211e" stroke-width="0.35" stroke-linejoin="round"/>
<path d="M301.7,301.7 302.5,303.3 318.3,314.6 317.9,318.3 315.0,321.0 311.7,321.5 308.8,321.2 306.7,322.9 304.2,324.8 303.8,326.8 302.1,328.3 299.6,329.2 297.9,327.1 296.7,325.0 294.2,324.6 292.5,322.9 292.1,321.2 292.5,320.7 302.1,319.8 302.5,316.7Z" fill="#f23418" stroke="#f23418" stroke-width="0.35" stroke-linejoin="round"/>
<path d="M318.3,314.6 330.0,307.5 335.8,308.3 336.7,315.0 334.2,321.7 332.5,325.0 333.3,325.8 330.0,325.0 325.0,324.6 319.2,323.8 317.5,325.0 315.4,324.8 315.0,321.0 317.9,318.3Z" fill="#f23418" stroke="#f23418" stroke-width="0.35" stroke-linejoin="round"/>
<path d="M335.8,308.3 350.8,310.8 348.3,316.7 347.5,325.0 349.2,328.3 345.0,330.8 340.0,332.5 335.8,334.2 335.0,329.2 332.5,325.0 334.2,321.7 336.7,315.0Z" fill="#e4211e" stroke="#e4211e" stroke-width="0.35" stroke-linejoin="round"/>
<path d="M351.7,309.2 350.8,310.8 348.3,316.7 347.5,325.0 349.2,328.3 352.5,329.7 356.7,330.3 362.5,327.7 365.0,331.0 367.5,327.5 370.0,321.7 371.7,316.7 371.7,313.3 369.2,308.7 360.0,309.2Z" fill="#b2181b" stroke="#b2181b" stroke-width="0.35" stroke-linejoin="round"/>
<path d="M352.5,330.0 356.7,330.3 362.5,328.0 365.0,331.3 367.5,335.8 363.3,338.3 358.3,337.5 354.2,335.8 351.7,332.5Z" fill="#b2181b" stroke="#b2181b" stroke-width="0.35" stroke-linejoin="round"/>
<path d="M371.7,317.5 374.2,319.2 379.2,324.2 380.8,326.7 376.7,324.2 372.5,321.7 370.3,321.7Z" fill="#e4211e" stroke="#e4211e" stroke-width="0.35" stroke-linejoin="round"/>
<path d="M367.5,327.5 370.3,321.7 372.5,322.0 376.7,324.7 380.0,327.5 382.5,330.8 387.5,332.5 383.3,336.7 377.5,339.2 372.5,339.2 368.3,335.8 365.8,331.7Z" fill="#f23418" stroke="#f23418" stroke-width="0.35" stroke-linejoin="round"/>
<path d="M382.5,330.0 387.5,329.2 390.8,327.0 393.3,327.5 391.7,332.5 387.5,338.3 381.7,344.2 377.5,346.7 376.7,342.5 377.5,339.7 383.3,337.0 388.0,333.0 382.5,330.8Z" fill="#701419" stroke="#701419" stroke-width="0.35" stroke-linejoin="round"/>
<path d="M367.5,339.2 372.5,339.7 377.0,339.7 376.3,343.0 377.5,346.7 374.2,350.8 368.3,346.7 369.2,342.5Z" fill="#e4211e" stroke="#e4211e" stroke-width="0.35" stroke-linejoin="round"/>
<path d="M361.7,340.0 367.5,338.7 368.3,343.3 365.0,345.8 360.3,345.8Z" fill="#e4211e" stroke="#e4211e" stroke-width="0.35" stroke-linejoin="round"/>
<path d="M360.8,350.0 365.0,346.3 368.3,347.8 373.3,352.0 374.2,357.5 375.0,362.5 369.2,364.2 365.0,362.5 361.7,359.2 360.8,355.0Z" fill="#f23418" stroke="#f23418" stroke-width="0.35" stroke-linejoin="round"/>
<path d="M359.2,346.7 361.7,346.3 361.8,348.0 359.5,348.3Z" fill="#f75a08" stroke="#f75a08" stroke-width="0.35" stroke-linejoin="round"/>
<path d="M359.5,348.3 361.8,348.0 362.0,350.0 359.8,350.3Z" fill="#e4211e" stroke="#e4211e" stroke-width="0.35" stroke-linejoin="round"/>
<path d="M284.2,320.4 287.1,318.8 290.4,319.2 292.1,321.2 292.5,322.9 291.2,324.6 288.3,324.3 285.0,323.8 284.2,322.1Z" fill="#f75a08" stroke="#f75a08" stroke-width="0.35" stroke-linejoin="round"/>
<path d="M286.2,325.4 288.3,325.0 288.3,326.5 286.7,326.7Z" fill="#b2181b" stroke="#b2181b" stroke-width="0.35" stroke-linejoin="round"/>
<path d="M288.3,326.5 288.3,325.0 291.2,324.6 292.5,322.9 294.2,324.6 296.7,325.0 297.9,327.1 299.6,329.2 299.2,330.0 298.8,332.5 296.7,331.7 295.0,330.8 293.3,330.0 291.7,329.2 290.0,328.3Z" fill="#e4211e" stroke="#e4211e" stroke-width="0.35" stroke-linejoin="round"/>
<path d="M290.8,330.0 291.7,329.2 293.3,330.0 293.8,332.1 292.1,332.9 290.8,331.7Z" fill="#f23418" stroke="#f23418" stroke-width="0.35" stroke-linejoin="round"/>
<path d="M293.8,332.1 293.3,330.0 295.0,330.8 296.7,331.7 298.8,332.5 299.2,335.0 300.0,337.5 298.8,337.5 297.1,337.1 295.0,335.4Z" fill="#f23418" stroke="#f23418" stroke-width="0.35" stroke-linejoin="round"/>
<path d="M299.2,330.0 299.6,329.2 302.1,328.3 303.8,326.8 305.0,328.3 306.7,327.5 306.7,331.7 306.8,336.5 303.3,336.8 300.0,337.5 299.2,335.0 298.8,332.5Z" fill="#f23418" stroke="#f23418" stroke-width="0.35" stroke-linejoin="round"/>
<path d="M304.2,324.8 306.7,322.9 308.8,321.2 311.7,321.5 315.0,321.0 315.4,324.8 314.2,325.8 312.3,327.1 309.2,327.1 306.7,327.5 305.0,328.3 303.8,326.8Z" fill="#f75a08" stroke="#f75a08" stroke-width="0.35" stroke-linejoin="round"/>
<path d="M306.7,327.5 309.2,327.1 312.3,327.1 312.5,331.7 312.5,335.0 308.8,337.1 306.8,336.5 306.7,331.7Z" fill="#f75a08" stroke="#f75a08" stroke-width="0.35" stroke-linejoin="round"/>
<path d="M312.3,327.1 313.8,326.8 313.8,334.2 312.5,335.0 312.5,331.7Z" fill="#f23418" stroke="#f23418" stroke-width="0.35" stroke-linejoin="round"/>
<path d="M313.8,326.8 314.2,325.8 315.4,324.8 317.5,325.0 316.7,329.2 317.1,333.3 315.4,333.9 313.8,334.2Z" fill="#f23418" stroke="#f23418" stroke-width="0.35" stroke-linejoin="round"/>
<path d="M317.5,325.0 319.2,323.8 325.0,324.6 330.0,325.0 333.3,325.8 333.3,329.3 331.7,331.8 329.2,333.8 326.2,336.0 323.3,337.5 320.8,336.7 319.2,334.6 317.1,333.3 316.7,329.2Z" fill="#e4211e" stroke="#e4211e" stroke-width="0.35" stroke-linejoin="round"/>
<path d="M331.7,331.7 334.2,329.7 335.3,334.2 334.2,339.2 335.0,341.7 327.5,341.7 326.7,339.2 329.2,335.8Z" fill="#e4211e" stroke="#e4211e" stroke-width="0.35" stroke-linejoin="round"/>
<path d="M335.8,334.7 340.0,332.8 345.0,331.2 349.2,328.7 352.0,332.5 354.2,335.8 348.3,337.5 343.3,338.3 339.2,339.2 335.3,339.2Z" fill="#e4211e" stroke="#e4211e" stroke-width="0.35" stroke-linejoin="round"/>
<path d="M327.0,342.5 334.2,342.0 334.2,348.3 330.8,351.7 328.0,349.2 326.7,345.8Z" fill="#f23418" stroke="#f23418" stroke-width="0.35" stroke-linejoin="round"/>
<path d="M334.2,342.0 339.2,339.7 340.8,341.7 338.3,346.7 335.8,351.7 332.5,353.3 330.8,352.0 334.2,348.3Z" fill="#e4211e" stroke="#e4211e" stroke-width="0.35" stroke-linejoin="round"/>
<path d="M340.8,339.2 348.3,337.8 354.2,336.2 358.3,337.8 361.7,340.0 360.0,345.0 358.3,350.0 360.8,355.0 359.2,359.2 361.7,364.2 357.5,365.0 353.3,363.3 348.3,363.0 346.7,358.3 340.8,357.5 335.0,356.7 333.7,354.2 335.8,351.7 338.3,346.7 340.8,341.7Z" fill="#e4211e" stroke="#e4211e" stroke-width="0.35" stroke-linejoin="round"/>
<path d="M332.5,356.7 335.0,356.7 340.8,357.8 346.7,358.7 348.3,363.3 349.2,366.7 346.7,366.7 346.7,372.5 338.3,373.3 331.7,372.5 333.3,363.3Z" fill="#b2181b" stroke="#b2181b" stroke-width="0.35" stroke-linejoin="round"/>
<path d="M348.3,363.3 353.3,363.7 357.5,365.3 358.3,360.8 361.7,364.2 365.8,365.8 363.3,370.0 357.5,373.3 351.7,373.3 347.0,372.0 347.0,366.7 349.2,366.7Z" fill="#f23418" stroke="#f23418" stroke-width="0.35" stroke-linejoin="round"/>
<path d="M365.8,363.0 367.5,365.8 368.3,370.8 366.3,370.0 365.8,366.7Z" fill="#f23418" stroke="#f23418" stroke-width="0.35" stroke-linejoin="round"/>
<path d="M368.3,364.2 375.0,363.0 376.3,366.7 375.0,372.0 370.0,376.7 368.3,379.2 367.5,384.2 365.8,386.7 363.3,386.7 363.0,380.8 364.2,375.8 363.3,370.8 366.3,373.3 366.3,370.0 368.3,370.8Z" fill="#e4211e" stroke="#e4211e" stroke-width="0.35" stroke-linejoin="round"/>
<path d="M354.2,376.3 357.5,372.5 362.5,371.7 364.2,375.8 363.0,380.8 360.0,383.0 356.7,381.7Z" fill="#e4211e" stroke="#e4211e" stroke-width="0.35" stroke-linejoin="round"/>
<path d="M330.8,373.7 345.8,373.7 346.3,375.3 344.2,376.7 343.3,387.5 341.7,388.3 341.7,394.2 339.2,393.3 335.0,385.0 332.5,378.3Z" fill="#f77602" stroke="#f77602" stroke-width="0.35" stroke-linejoin="round"/>
<path d="M346.3,375.3 350.8,374.7 354.2,376.7 356.7,381.7 353.3,385.0 350.0,386.7 347.5,388.3 344.2,388.3 343.8,376.7Z" fill="#f99505" stroke="#f99505" stroke-width="0.35" stroke-linejoin="round"/>
<path d="M341.7,394.2 342.0,388.7 344.2,388.7 347.5,388.7 350.0,387.0 353.3,385.3 356.7,382.0 360.0,383.3 362.5,385.0 363.0,389.2 363.3,391.7 360.8,395.8 356.7,400.0 351.7,402.5 345.8,403.3 342.5,404.2 340.8,399.2Z" fill="#f75a08" stroke="#f75a08" stroke-width="0.35" stroke-linejoin="round"/>
<path d="M355.0,395.8 356.7,394.2 358.3,395.8 356.7,397.5Z" fill="#f75a08" stroke="#f75a08" stroke-width="0.35" stroke-linejoin="round"/>
<path d="M360.5,388.3 363.0,388.3 363.0,391.3 360.8,391.0Z" fill="#f23418" stroke="#f23418" stroke-width="0.35" stroke-linejoin="round"/>
<path d="M390.0,365.8 391.7,368.3 390.8,375.0 388.3,382.5 385.8,386.7 382.5,386.7 381.3,381.7 382.5,376.7 384.2,372.5 387.5,370.0Z" fill="#e4211e" stroke="#e4211e" stroke-width="0.35" stroke-linejoin="round"/>
<path d="M322.1,255.0 323.3,241.7 333.3,242.1 339.2,240.8 347.5,241.7 354.6,237.5 360.0,237.5 362.9,242.9 362.9,245.8 367.9,249.6 374.6,252.5 375.0,256.7 368.3,260.0 363.8,259.6 359.2,257.9 356.2,259.2 357.1,264.2 356.2,266.7 356.7,268.8 351.7,271.2 347.5,272.5 345.4,273.8 344.6,271.2 340.8,264.2 338.8,264.6 333.3,261.8 330.0,260.5 323.3,263.0Z" fill="#f77602" stroke="#f77602" stroke-width="0.35" stroke-linejoin="round"/>
<path d="M337.5,260.0 346.2,259.2 349.2,265.8 349.6,270.4 347.5,272.5 345.4,274.0 343.8,271.7 341.7,269.2 339.2,267.5 337.1,264.6Z" fill="#f23418" stroke="#f23418" stroke-width="0.35" stroke-linejoin="round"/>
<path d="M320.8,228.3 320.0,218.3 325.0,214.2 329.2,208.3 333.3,198.3 338.3,192.5 344.2,186.7 349.2,184.2 351.7,181.7 356.7,180.8 360.0,183.3 360.8,186.7 358.3,185.8 355.8,186.7 353.3,192.5 350.0,191.7 346.7,190.0 345.0,190.0 340.0,194.2 336.7,200.8 334.2,206.7 331.7,213.3 330.0,221.7 330.0,227.5 326.7,230.8 324.2,229.2Z" fill="#faca00" stroke="#faca00" stroke-width="0.35" stroke-linejoin="round"/>
<path d="M330.0,227.5 330.0,221.7 331.7,213.3 334.2,206.7 336.7,200.8 340.0,194.2 345.0,190.0 346.7,190.0 349.2,197.5 349.2,204.2 345.8,207.5 341.7,212.5 339.2,218.3 339.2,224.2 340.8,226.7 337.5,231.7 335.8,236.7 331.7,237.5 330.0,233.3Z" fill="#faca00" stroke="#faca00" stroke-width="0.35" stroke-linejoin="round"/>
<path d="M346.7,190.0 350.0,191.7 353.3,192.5 355.8,186.7 358.3,185.8 358.3,190.0 357.5,190.0 359.2,198.3 358.3,205.0 360.8,212.5 360.8,218.3 357.5,222.5 351.7,223.3 348.3,222.5 346.7,216.7 347.5,211.7 350.8,207.5 351.7,204.2 349.2,204.2 349.2,197.5Z" fill="#faca00" stroke="#faca00" stroke-width="0.35" stroke-linejoin="round"/>
<path d="M324.6,234.2 326.2,232.5 327.9,232.9 327.9,236.2 327.1,238.3 325.4,238.8 324.6,236.7Z" fill="#faca00" stroke="#faca00" stroke-width="0.35" stroke-linejoin="round"/>
<path d="M329.3,236.9 330.8,236.9 331.0,238.3 329.7,238.5Z" fill="#faca00" stroke="#faca00" stroke-width="0.35" stroke-linejoin="round"/>
<path d="M350.0,226.7 355.0,226.2 355.8,225.0 357.1,230.0 355.4,230.2 352.9,230.6 350.4,229.2Z" fill="#f9ad00" stroke="#f9ad00" stroke-width="0.35" stroke-linejoin="round"/>
<path d="M345.8,232.5 347.9,231.7 350.4,232.1 351.2,230.8 352.9,231.2 355.4,230.2 357.1,230.0 356.7,234.2 355.8,235.8 352.9,235.4 349.6,235.0 345.8,234.6Z" fill="#f77602" stroke="#f77602" stroke-width="0.35" stroke-linejoin="round"/>
<path d="M346.2,236.2 349.6,235.4 352.9,235.8 355.8,235.8 354.6,237.5 353.8,239.6 351.7,241.2 349.6,240.8 347.5,238.8Z" fill="#f77602" stroke="#f77602" stroke-width="0.35" stroke-linejoin="round"/>
<path d="M344.0,239.0 346.2,239.0 347.5,238.8 346.7,240.2 344.2,240.2Z" fill="#e4211e" stroke="#e4211e" stroke-width="0.35" stroke-linejoin="round"/>
<path d="M354.6,237.5 355.8,235.8 356.7,234.2 358.3,235.8 360.0,237.5 361.2,240.4 362.9,242.9 362.9,245.8 360.8,247.5 357.9,247.9 354.6,247.9 351.7,246.8 350.4,245.0 350.8,242.9 351.7,241.2 353.8,239.6Z" fill="#f75a08" stroke="#f75a08" stroke-width="0.35" stroke-linejoin="round"/>
<path d="M350.4,248.3 351.7,246.8 354.6,247.9 357.9,247.9 360.8,247.5 362.9,245.8 365.8,246.7 367.9,249.6 370.8,251.2 374.6,252.5 376.2,254.2 375.0,256.7 373.3,258.3 370.8,259.2 368.3,260.0 365.8,260.8 363.8,259.6 362.5,260.8 360.4,260.0 359.2,257.9 357.9,257.9 356.2,257.1 354.2,256.5 350.8,256.0 348.8,255.0 348.3,252.9 349.6,250.8Z" fill="#f23418" stroke="#f23418" stroke-width="0.35" stroke-linejoin="round"/>
<path d="M367.9,260.8 370.8,260.0 372.1,262.1 369.6,263.1 368.3,262.1Z" fill="#f23418" stroke="#f23418" stroke-width="0.35" stroke-linejoin="round"/>
<path d="M356.2,257.1 357.9,257.9 359.2,260.0 358.3,261.8 357.5,260.0Z" fill="#f23418" stroke="#f23418" stroke-width="0.35" stroke-linejoin="round"/>
<path d="M302.9,229.6 305.4,229.2 306.2,231.2 307.5,232.9 306.7,235.0 307.9,237.5 309.6,240.0 310.4,242.9 312.1,245.4 312.9,247.5 311.7,249.2 308.8,249.6 305.8,249.6 304.2,250.4 305.0,248.3 303.8,246.7 304.6,244.6 306.2,243.8 305.0,241.2 304.2,238.8 303.3,235.8 302.1,233.3Z" fill="#faca00" stroke="#faca00" stroke-width="0.35" stroke-linejoin="round"/>
<path d="M297.1,241.2 298.8,240.4 300.0,240.0 301.2,241.7 300.8,244.2 298.8,246.2 296.7,247.1 296.2,244.6Z" fill="#f9ad00" stroke="#f9ad00" stroke-width="0.35" stroke-linejoin="round"/>
<path d="M299.8,239.8 301.2,239.3 301.8,241.2 300.8,241.5Z" fill="#faca00" stroke="#faca00" stroke-width="0.35" stroke-linejoin="round"/>
<path d="M305.0,256.7 307.9,255.8 310.4,254.6 312.5,252.5 315.0,251.2 317.5,252.9 320.0,253.8 322.1,255.0 322.9,257.1 322.1,258.8 321.7,260.4 322.9,261.7 322.9,261.8 323.3,263.0 323.3,264.7 322.1,266.8 319.2,268.4 315.0,268.4 311.2,267.6 309.6,265.5 310.0,261.3 308.8,258.3 306.2,257.5Z" fill="#f9ad00" stroke="#f9ad00" stroke-width="0.35" stroke-linejoin="round"/>
<path d="M318.3,247.1 320.4,244.6 322.1,243.8 322.1,246.2 322.1,249.2 321.7,252.5 322.1,255.0 320.0,253.8 317.5,252.9 318.8,251.7 317.5,250.8Z" fill="#faca00" stroke="#faca00" stroke-width="0.35" stroke-linejoin="round"/>
<path d="M322.1,243.8 323.3,241.7 325.8,240.8 329.2,241.2 332.5,242.1 335.0,242.7 334.2,245.0 334.6,246.7 335.4,250.0 332.9,251.7 333.3,253.8 332.5,254.6 333.3,256.2 332.9,258.8 331.2,257.5 328.3,257.7 325.0,258.2 322.9,257.1 322.1,255.0 321.7,252.5 322.1,249.2 322.1,246.2Z" fill="#faca00" stroke="#faca00" stroke-width="0.35" stroke-linejoin="round"/>
<path d="M322.1,258.8 322.9,257.1 325.0,258.2 326.7,259.2 325.4,260.8 322.9,261.7 321.7,260.4Z" fill="#faca00" stroke="#faca00" stroke-width="0.35" stroke-linejoin="round"/>
<path d="M326.7,259.2 325.0,258.2 328.3,257.7 331.2,257.5 332.9,258.8 333.3,256.2 336.7,255.4 338.8,256.0 339.2,257.9 337.5,258.8 335.4,259.6 332.5,260.4 330.0,260.0Z" fill="#f9ad00" stroke="#f9ad00" stroke-width="0.35" stroke-linejoin="round"/>
<path d="M334.2,245.0 335.0,242.7 339.2,241.2 339.2,240.8 344.2,241.2 347.5,238.8 349.6,240.8 351.7,241.2 350.8,242.9 350.4,245.0 351.7,246.8 350.4,248.3 349.6,250.8 348.3,252.9 346.7,252.7 343.3,252.9 340.0,252.1 337.1,250.4 335.4,250.0 334.6,246.7 334.2,245.0Z" fill="#f99505" stroke="#f99505" stroke-width="0.35" stroke-linejoin="round"/>
<path d="M332.9,251.7 335.4,250.0 337.1,250.4 340.0,252.1 343.3,252.9 341.7,255.0 339.2,254.6 336.2,254.8 333.3,253.8Z" fill="#f77602" stroke="#f77602" stroke-width="0.35" stroke-linejoin="round"/>
<path d="M343.3,252.9 346.7,252.7 348.3,252.9 348.8,255.0 347.5,255.2 344.2,255.6 341.7,255.0Z" fill="#f77602" stroke="#f77602" stroke-width="0.35" stroke-linejoin="round"/>
<path d="M339.2,258.3 341.7,257.1 345.8,256.7 347.5,255.2 348.8,255.0 350.8,256.0 347.5,257.9 345.8,260.4 342.5,261.7 339.2,260.8Z" fill="#f75a08" stroke="#f75a08" stroke-width="0.35" stroke-linejoin="round"/>
<path d="M347.5,257.9 350.8,256.0 354.2,256.5 356.2,257.1 357.5,260.0 358.3,261.8 356.2,259.2 357.5,261.7 357.1,264.2 355.8,265.8 352.5,266.2 349.2,265.8 347.1,263.3 346.2,259.2Z" fill="#f75a08" stroke="#f75a08" stroke-width="0.35" stroke-linejoin="round"/>
<path d="M349.2,267.5 349.2,265.8 352.5,266.2 355.8,265.8 356.2,266.7 356.7,268.8 354.6,270.8 351.7,271.2 349.6,270.4Z" fill="#f75a08" stroke="#f75a08" stroke-width="0.35" stroke-linejoin="round"/>
<path d="M345.0,262.1 346.2,259.2 347.1,263.3 349.2,265.8 349.2,267.5 348.3,267.9 346.2,268.8 344.6,266.7 343.8,263.8Z" fill="#f75a08" stroke="#f75a08" stroke-width="0.35" stroke-linejoin="round"/>
<path d="M338.8,264.6 340.8,264.2 343.8,263.8 344.6,266.7 343.3,268.8 342.1,267.5 340.4,267.1 338.8,266.2Z" fill="#f23418" stroke="#f23418" stroke-width="0.35" stroke-linejoin="round"/>
<path d="M333.3,261.8 336.2,260.9 338.3,262.2 339.2,261.2 341.2,262.1 344.6,261.2 345.0,262.1 343.8,263.8 340.8,264.2 338.8,264.6 338.8,266.2 340.4,267.1 342.1,267.5 343.3,268.8 342.1,269.0 339.6,267.5 337.5,265.4 335.4,265.1 333.8,263.8Z" fill="#f75a08" stroke="#f75a08" stroke-width="0.35" stroke-linejoin="round"/>
<path d="M343.3,268.8 344.6,266.7 346.2,268.8 347.5,272.1 345.4,273.8 344.3,272.9 343.8,270.8Z" fill="#f23418" stroke="#f23418" stroke-width="0.35" stroke-linejoin="round"/>
<path d="M345.4,273.8 347.5,272.1 346.2,268.8 348.3,267.9 349.6,270.4 351.7,271.2 351.2,272.1 350.4,273.8 348.3,274.6 348.8,277.1 349.6,279.2 347.9,281.2 346.7,279.2 345.8,276.2Z" fill="#f75a08" stroke="#f75a08" stroke-width="0.35" stroke-linejoin="round"/>
<path d="M347.5,282.1 350.4,281.8 350.2,282.7 347.7,282.8Z" fill="#f75a08" stroke="#f75a08" stroke-width="0.35" stroke-linejoin="round"/>
<path d="M323.3,263.0 326.7,261.8 330.0,260.5 332.5,261.3 333.3,261.8 333.8,263.8 331.4,264.5 331.0,266.3 332.7,268.8 335.2,271.3 338.3,273.8 340.8,275.7 339.8,277.3 338.2,277.0 338.3,279.0 336.8,279.5 335.4,276.2 332.1,273.8 329.6,271.3 327.9,268.8 326.7,266.8 324.6,265.9 323.3,264.7Z" fill="#f77602" stroke="#f77602" stroke-width="0.35" stroke-linejoin="round"/>
<path d="M325.0,274.2 326.7,274.1 326.8,278.0 325.2,278.0Z" fill="#f77602" stroke="#f77602" stroke-width="0.35" stroke-linejoin="round"/>
<path d="M325.7,271.3 326.5,271.2 326.5,273.4 325.7,273.4Z" fill="#f9ad00" stroke="#f9ad00" stroke-width="0.35" stroke-linejoin="round"/>
<path d="M331.7,280.1 335.7,279.7 335.0,282.2 332.9,282.2Z" fill="#f77602" stroke="#f77602" stroke-width="0.35" stroke-linejoin="round"/>
<path d="M297.5,268.4 300.8,267.8 306.7,268.2 311.2,269.2 314.6,270.5 312.5,272.6 310.8,274.7 310.4,277.6 308.8,280.1 306.7,281.8 302.9,282.2 300.8,280.9 299.6,280.5 300.0,277.6 300.4,274.2 300.0,271.3 297.9,270.5Z" fill="#f77602" stroke="#f77602" stroke-width="0.35" stroke-linejoin="round"/>
<path d="M297.1,271.8 297.9,270.5 300.0,271.3 300.4,274.2 300.0,277.6 299.6,280.5 297.5,280.5 297.1,277.2Z" fill="#f99505" stroke="#f99505" stroke-width="0.35" stroke-linejoin="round"/>
<path d="M84.2,188.4 84.2,221.6M84.5,221.9 85.0,220.8 90.8,227.5 94.2,225.0 102.5,237.5 101.8,238.8M51.5,201.7 51.7,201.7 51.6,201.5M84.2,188.4 84.2,221.6M84.5,221.9 85.0,220.8 90.8,227.5 94.2,225.0 102.5,237.5 102.3,239.2M114.8,255.5 158.3,255.5 163.3,255.8 166.7,259.2 175.0,259.2 177.5,261.7 180.8,263.7 181.7,268.3 183.3,267.5 189.2,266.7 195.0,263.0 198.3,260.0 200.0,259.2 202.5,260.8 203.1,262.0M204.3,255.3 203.3,255.0 204.3,254.6M172.2,207.3 172.9,206.4M180.2,188.0 178.3,186.7 175.0,187.5 174.7,188.9M114.8,255.5 158.3,255.5 163.3,255.8 166.7,259.2 175.0,259.2 177.5,261.7 180.8,263.7 181.7,268.3 183.3,267.5 189.2,266.7 195.0,263.0 198.3,260.0 200.0,259.2 202.5,260.8 203.1,262.0M181.2,291.8 180.0,293.3 181.8,292.6M153.7,300.8 151.7,296.7 147.5,297.5 144.2,294.2 139.2,294.2 136.7,292.5 130.0,292.5 124.7,291.2M124.7,291.2 130.0,292.5 136.7,292.5 139.2,294.2 144.2,294.2 147.5,297.5 151.7,296.7 153.7,300.8M166.0,317.7 165.8,318.0 162.6,319.5M133.7,303.2 130.0,298.3 126.7,291.7 124.7,291.2M124.9,291.6 126.2,292.0 130.8,300.8 131.7,302.6M162.6,319.5 165.8,318.0 166.1,318.0M177.2,96.1 177.5,96.7 177.7,96.0M207.5,342.5 207.5,339.2 211.7,337.5 214.2,340.0 216.7,343.3 220.0,342.5 223.3,341.7 225.0,342.5 227.4,340.7M224.4,400.2 223.3,399.2 219.2,397.5 221.7,393.3 223.3,390.0 224.2,386.7 223.3,383.3 219.2,380.8 218.3,376.7 216.7,373.3 214.2,367.5 207.5,365.0 205.8,361.7 200.8,363.3 197.5,361.7 193.3,358.3 195.0,353.3 199.2,349.2 199.2,345.0 204.2,343.3 207.5,342.5M194.9,329.6 194.2,332.5 199.2,336.7 202.5,337.5 202.5,341.7 204.2,343.3 199.2,345.0 199.2,349.2 195.0,349.2 191.7,345.8 187.5,347.5 183.5,346.2M213.7,335.5 211.7,337.5 207.5,339.2 207.5,342.5 204.2,343.3 202.5,341.7 202.5,337.5 199.2,336.7 194.2,332.5 194.9,329.6M218.3,338.3 218.3,340.8 220.0,342.5 216.7,343.3 214.2,340.0 211.7,337.5 213.7,335.5M223.3,337.6 223.3,341.7 220.0,342.5 218.3,340.8 218.3,338.3M227.4,340.7 225.0,342.5 223.3,341.7 223.3,337.6M183.5,346.2 187.5,347.5 191.7,345.8 189.2,349.2 185.8,352.5 183.6,353.2M183.6,353.2 185.8,352.5 189.2,349.2 191.7,345.8 195.0,349.2 199.2,349.2 195.0,353.3 193.3,358.3 197.5,361.7 200.8,363.3 200.0,367.5 200.0,375.0 198.3,375.6M200.8,363.3 205.8,361.7 207.5,365.0 214.2,367.5 216.7,373.3 218.3,376.7 212.5,377.5 210.8,381.7 207.5,382.5 202.5,380.0 200.0,375.0 200.0,367.5 200.8,363.3M212.5,377.5 218.3,376.7 219.2,380.8 223.3,383.3 224.2,386.7 223.3,390.0 218.3,390.8 211.7,385.0 210.8,381.7 212.5,377.5M198.3,375.6 200.0,375.0 202.5,380.0 200.8,386.7 199.2,395.0 198.3,405.0 196.7,413.3 195.0,421.7 195.0,430.0 194.2,438.3 197.5,443.3 198.2,443.8M203.0,450.4 202.6,450.7M202.5,380.0 207.5,382.5 210.8,381.7 211.7,385.0 218.3,390.8 223.3,390.0 221.7,393.3 219.2,397.5 217.5,401.7 218.7,404.4M198.3,443.2 197.5,443.3 194.2,438.3 195.0,430.0 195.0,421.7 196.7,413.3 198.3,405.0 199.2,395.0 200.8,386.7 202.5,380.0M219.2,397.5 223.3,399.2 224.2,400.5M219.0,404.0 217.5,401.7 219.2,397.5M357.2,223.0 357.5,222.5 360.8,218.3 360.8,212.5 358.3,205.0 359.2,198.3 357.5,190.0 358.3,190.0 360.7,188.8M421.6,193.5 422.5,194.2 422.3,193.1M429.5,194.9 427.5,198.3 425.8,200.8 429.2,202.5 431.7,196.7 431.7,195.0M524.0,266.1 525.0,264.2 527.5,260.0 529.2,256.7 525.0,256.7 520.0,254.2 515.8,250.0 512.5,244.2 509.2,242.5 505.0,244.2 504.2,249.2 500.0,252.5 495.8,251.7 490.0,253.3 485.0,252.5 483.3,253.3 476.7,250.8 470.8,247.5 467.5,251.7 459.2,250.8 451.7,255.0 449.2,253.3 445.0,251.7 439.2,247.5 434.2,240.8 428.3,242.5 424.2,238.3 416.7,240.0 410.8,241.7 409.2,247.5 405.0,250.0 398.3,249.2 391.7,248.3 386.7,253.3 387.5,258.3 387.5,260.7M387.1,271.3 385.8,270.8 383.8,270.0 380.4,269.2 379.5,269.0M373.1,261.1 374.2,258.3 375.0,256.7 376.2,254.2 374.6,252.5 370.8,251.2 367.9,249.6 365.8,246.7 362.9,245.8 362.9,242.9 361.2,240.4 360.0,237.5 358.3,235.8 356.7,234.2 357.1,230.0 356.1,226.2M451.7,255.0 449.2,253.3 445.0,251.7 439.2,247.5 434.2,240.8 428.3,242.5 424.2,238.3 416.7,240.0 410.8,241.7 409.2,247.5 405.0,250.0 398.3,249.2 391.7,248.3 386.7,253.3 387.5,258.3 387.5,260.7M398.3,273.9 400.0,272.9 402.1,271.5 401.2,268.3 401.2,264.2 405.0,262.9 408.3,264.6 411.2,267.5 415.0,267.1 417.9,269.6 420.0,272.1 423.3,271.7 427.1,269.2 430.8,267.9 435.0,268.8 439.2,269.6 440.8,269.6 440.4,266.7 441.7,265.0 443.8,263.8 445.0,261.2 447.5,260.0 449.9,257.5 451.7,255.0M451.7,255.0 459.2,250.8 467.5,251.7 470.8,247.5 476.7,250.8 483.3,253.3 485.0,252.5 490.0,253.3 495.8,251.7 500.0,252.5 497.5,255.8 501.7,256.7 504.2,260.0 498.3,261.7 491.7,265.0 488.3,268.3 486.7,270.8 480.0,271.7 473.3,270.0 466.7,267.5 460.0,265.0 456.7,261.7 454.2,258.3 451.7,255.0M434.2,283.3 432.9,280.8 432.5,277.9 431.7,275.8 433.3,274.2 435.8,272.5 438.8,271.2 439.2,270.0 440.8,269.6 440.4,266.7 441.7,265.0 443.8,263.8 445.0,261.2 447.5,260.0 449.9,257.5 451.7,255.0 454.2,258.3 456.7,261.7 460.0,265.0 466.7,267.5 473.3,270.0 480.0,271.7 486.7,270.8 488.3,268.3 491.7,265.0 498.3,261.7 504.2,260.0 501.7,256.7 497.5,255.8 500.0,252.5 504.2,249.2 505.0,244.2 509.2,242.5 512.5,244.2 515.8,250.0 520.0,254.2 525.0,256.7 529.2,256.7 527.5,260.0 525.0,264.2 524.0,266.1M519.6,269.9 518.3,270.8 515.0,273.3 513.3,274.2 513.2,274.2M483.0,309.2 482.9,309.2 480.0,308.2 477.5,309.0 475.8,309.4 474.2,309.6 471.2,307.5 468.8,305.8 470.0,302.5 469.6,300.0 467.5,299.6 465.0,297.5 462.5,298.2 460.8,297.5 458.3,298.5 455.4,298.8 450.8,300.0 445.0,297.5 440.0,294.2 438.3,290.0 437.5,285.8 433.3,283.7 434.2,283.3M513.6,274.7 514.6,273.8 516.7,272.5 518.8,271.2 519.7,270.5M423.4,303.2 424.2,299.2 427.5,295.8 430.8,291.7 430.8,286.7 433.3,283.7 437.5,285.8 438.3,290.0 440.0,294.2 440.0,296.7 445.0,300.3 451.2,301.7 451.7,301.3 453.0,300.3 455.7,300.0 458.3,299.8 458.3,298.5 460.8,297.5 462.5,298.2 465.0,297.5 467.5,299.6 465.0,302.1 463.3,305.8 462.1,308.0M457.0,304.6 456.2,303.3 454.2,304.2 454.2,306.6M440.0,294.5 445.0,297.8 450.8,300.3 451.2,301.7 445.0,300.3 440.0,296.7 440.0,294.5M455.4,298.8 458.3,298.5 458.3,299.8 455.7,300.0 455.4,298.8M454.2,304.2 456.2,303.3 457.0,304.6M454.2,306.6 454.2,304.2M429.2,280.8 429.6,281.2 432.5,280.8 434.2,283.3 431.7,285.8 430.0,285.8 429.6,288.3 430.8,291.7 430.0,292.5 427.5,296.7 424.2,300.8 423.5,303.4M411.4,300.9 412.5,299.5 411.7,297.5 408.7,295.3 410.0,293.7 411.7,294.7 415.3,294.3 417.5,293.8 420.0,291.7 422.5,289.2 424.6,286.7 426.2,284.2 427.1,282.5 429.2,280.8M410.4,284.6 413.3,282.9 416.2,281.2 419.6,279.6 422.5,279.6 425.0,280.4 427.1,279.6 429.2,280.8 427.1,282.5 426.2,284.2 424.6,286.7 422.5,289.2 420.0,291.7 417.5,293.8 415.3,294.3 411.7,294.7 410.0,293.7 409.2,290.8 409.0,287.0 410.4,284.6M398.3,274.0 400.0,272.9 402.1,271.7 404.2,270.4 406.7,270.8 408.8,272.5 411.2,275.0 414.2,276.7 416.7,278.3 419.2,279.2 416.2,281.0 413.3,282.8 410.4,284.6 408.8,282.5 405.8,280.0 402.5,278.8 400.1,279.1M401.2,264.2 405.0,262.9 408.3,264.6 411.2,267.5 415.0,267.1 417.9,269.6 420.0,272.1 423.3,271.7 426.7,272.9 422.5,274.6 420.8,276.7 419.2,279.0 416.7,278.2 414.2,276.5 411.2,274.8 408.8,272.3 406.7,270.7 404.2,270.2 402.1,271.5 401.2,268.3 401.2,264.2M423.3,271.7 427.1,269.2 430.8,267.9 435.0,268.8 439.2,269.6 439.2,270.0 438.8,271.2 435.8,272.5 433.3,274.2 430.0,274.8 428.3,273.9 426.7,272.9 423.3,271.7M420.8,276.7 422.5,274.6 426.7,272.9 428.3,273.9 430.0,274.8 431.7,275.8 432.5,277.9 432.9,280.8 429.6,281.2 429.2,280.8 427.1,279.6 425.0,280.4 422.5,279.6 419.6,279.6 419.2,279.0 420.8,276.7M369.8,295.2 372.5,292.5 377.5,291.7 379.6,292.5 381.7,294.6 384.6,295.8 387.1,295.0 387.7,295.7M395.8,306.5 395.8,307.5 399.1,307.5M400.8,308.4 400.0,310.8 395.8,313.3 389.2,315.0 383.3,315.8 381.7,316.4M370.6,287.7 372.5,288.3 373.3,289.2 377.5,291.7 372.5,292.5 369.8,295.2M370.0,283.4 373.3,282.5 373.8,282.9 377.5,282.9 377.5,286.2 375.4,288.8 373.3,289.2 372.5,288.3 370.6,287.7M377.5,282.9 380.8,282.1 383.8,282.5 384.6,283.8 385.0,287.1 386.2,290.0 387.9,292.9 387.1,295.0 384.6,295.8 381.7,294.6 379.6,292.5 377.5,291.7 373.3,289.2 375.4,288.8 377.5,286.2 377.5,282.9M387.1,294.8 387.9,294.9M387.7,295.6 387.1,294.8M383.8,278.3 384.3,278.2M400.1,279.1 402.5,278.8 405.8,280.0 408.8,282.5 410.4,284.6 409.0,287.1 409.2,290.8 410.0,293.8 408.8,295.4 411.7,297.5 412.5,299.6 411.5,300.9M388.8,293.5 387.9,292.9 386.2,290.0 385.0,287.1 384.6,283.8 385.0,281.2 383.8,278.3M399.1,307.5 395.8,307.5 394.9,306.6M396.5,316.6 395.8,313.3 400.0,310.8 400.6,308.4M381.8,317.0 383.3,316.2 389.2,315.3 395.8,313.7 396.5,316.6M380.0,273.2 382.5,275.0 382.0,279.2 375.8,280.0 370.0,281.3 366.6,281.7M379.5,269.0 380.4,269.2 383.8,270.0 384.2,271.7 381.7,271.7 381.0,271.3M383.8,270.0 384.2,271.7 382.9,273.8 384.2,275.6 384.4,275.7M387.1,271.3 385.8,270.8 383.8,270.0M462.1,308.0 463.3,305.8 465.0,302.1 467.5,299.6 469.6,300.0 470.0,302.5 468.8,305.8 470.8,307.5 472.1,310.0 470.8,312.1 469.6,315.0 470.0,319.2 470.8,321.7 470.6,323.4M468.0,316.6 467.9,316.2 467.7,316.5M469.6,315.0 471.2,313.8 473.8,314.6 474.6,316.5 477.5,316.8 479.6,317.9 480.4,320.0 479.2,321.7 477.3,323.5M471.5,322.6 471.2,322.5 471.3,322.8M470.6,323.4 470.8,321.7 470.0,319.2 469.6,315.0M473.8,311.2 475.8,309.6 477.5,310.8 479.3,312.9 478.8,314.6 480.0,315.8 481.7,317.5 482.1,320.0 480.4,320.0 479.6,317.9 477.5,316.8 474.6,316.5 473.8,314.6 475.0,312.9 473.8,311.2M477.5,309.2 480.0,308.3 482.5,309.2 482.7,309.5M481.2,328.0 482.1,326.7 482.9,324.6 482.1,323.3 482.1,320.0 481.7,317.5 480.0,315.8 478.8,314.6 479.3,312.9 477.5,310.8 477.5,309.2M477.3,323.5 479.2,321.7 480.4,320.0 482.1,320.0 482.1,323.3 482.9,324.6 482.1,326.7 480.8,327.4M309.4,285.8 308.7,290.0 305.3,292.2 302.0,293.8 298.3,296.3 296.8,297.3M298.3,296.3 302.0,293.8 305.3,292.2 308.7,290.0 309.4,285.8M324.2,284.2 324.2,287.5 325.8,290.8 327.5,291.4M328.3,291.9 327.5,299.2 329.2,304.2 335.0,308.3 318.3,314.2 302.5,303.3 301.7,301.7 300.0,300.0 298.3,296.3M327.5,291.4 325.8,290.8 324.2,287.5 324.2,284.2M351.7,293.4 351.7,309.2 350.8,311.7 337.5,306.7 335.0,308.3 329.2,304.2 327.5,299.2 328.3,291.9M368.0,291.7 368.3,291.7 368.0,291.8M368.2,308.7 360.0,309.2 351.7,309.2 351.7,293.4M287.2,310.2 290.0,308.3 291.7,302.5 300.0,300.0 301.7,301.7 302.5,316.7 302.1,319.8 292.5,320.7 290.8,318.8 287.2,318.4M301.7,301.7 302.5,303.3 318.3,314.6 317.9,318.3 315.0,321.0 311.7,321.5 308.8,321.2 306.7,322.9 304.2,324.8 303.8,326.8 302.1,328.3 299.6,329.2 297.9,327.1 296.7,325.0 294.2,324.6 292.5,322.9 292.1,321.2 292.5,320.7 302.1,319.8 302.5,316.7 301.7,301.7M318.3,314.6 330.0,307.5 335.8,308.3 336.7,315.0 334.2,321.7 332.5,325.0 333.3,325.8 330.0,325.0 325.0,324.6 319.2,323.8 317.5,325.0 315.4,324.8 315.0,321.0 317.9,318.3 318.3,314.6M335.8,308.3 350.8,310.8 348.3,316.7 347.5,325.0 349.2,328.3 345.0,330.8 340.0,332.5 335.8,334.2 335.0,329.2 332.5,325.0 334.2,321.7 336.7,315.0 335.8,308.3M351.7,309.2 350.8,310.8 348.3,316.7 347.5,325.0 349.2,328.3 352.5,329.7 356.7,330.3 362.5,327.7 365.0,331.0 367.5,327.5 370.0,321.7 371.2,318.2M368.2,308.7 360.0,309.2 351.7,309.2M352.5,330.0 356.7,330.3 362.5,328.0 365.0,331.3 367.5,335.8 363.3,338.3 358.3,337.5 354.2,335.8 351.7,332.5 352.5,330.0M379.0,325.6 376.7,324.2 372.5,321.7 370.3,321.7 371.4,318.4M367.5,327.5 370.3,321.7 372.5,322.0 376.7,324.7 379.5,327.0M382.7,330.9 387.5,332.5 383.3,336.7 377.5,339.2 372.5,339.2 368.3,335.8 365.8,331.7 367.5,327.5M377.3,345.7 376.7,342.5 377.5,339.7 383.3,337.0 388.0,333.0 382.6,330.9M367.5,339.2 372.5,339.7 377.0,339.7 376.3,343.0 377.2,345.8M373.3,350.2 368.3,346.7 369.2,342.5 367.5,339.2M361.7,340.0 367.5,338.7 368.3,343.3 365.0,345.8 360.3,345.8 361.7,340.0M360.8,350.0 365.0,346.3 368.3,347.8 372.5,351.3M374.1,362.8 369.2,364.2 365.0,362.5 361.7,359.2 360.8,355.0 360.8,350.0M359.2,346.7 361.7,346.3 361.8,348.0 359.5,348.3 359.2,346.7M359.5,348.3 361.8,348.0 362.0,350.0 359.8,350.3 359.5,348.3M287.2,318.8 290.4,319.2 292.1,321.2 292.5,322.9 291.2,324.6 288.3,324.3 287.2,324.1M287.3,325.2 288.3,325.0 288.3,325.7M288.3,325.7 288.3,325.0 291.2,324.6 292.5,322.9 294.2,324.6 296.7,325.0 297.9,327.1 299.6,329.2 299.2,330.0 298.8,332.5 296.7,331.7 295.0,330.8 293.3,330.0 291.9,329.3M291.9,329.3 293.3,330.0 293.7,331.6M293.7,331.6 293.3,330.0 295.0,330.8 296.7,331.7 298.8,332.5 299.2,335.0 299.7,336.6M299.2,330.0 299.6,329.2 302.1,328.3 303.8,326.8 305.0,328.3 306.7,327.5 306.7,331.7 306.8,335.6M299.7,336.6 299.2,335.0 298.8,332.5 299.2,330.0M304.2,324.8 306.7,322.9 308.8,321.2 311.7,321.5 315.0,321.0 315.4,324.8 314.2,325.8 312.3,327.1 309.2,327.1 306.7,327.5 305.0,328.3 303.8,326.8 304.2,324.8M306.7,327.5 309.2,327.1 312.3,327.1 312.5,331.7 312.5,333.9M306.8,335.6 306.7,331.7 306.7,327.5M312.3,327.1 313.8,326.8 313.8,333.3M312.5,333.9 312.5,331.7 312.3,327.1M313.8,326.8 314.2,325.8 315.4,324.8 317.5,325.0 316.7,329.2 317.0,332.5M313.8,333.3 313.8,326.8M317.5,325.0 319.2,323.8 325.0,324.6 330.0,325.0 333.3,325.8 333.3,329.3 331.7,331.8 329.2,333.8 328.3,334.4M317.0,332.5 316.7,329.2 317.5,325.0M331.7,331.7 334.2,329.7 335.3,334.2 334.2,339.2 335.0,341.7 328.3,341.7M329.4,335.4 331.7,331.7M335.8,334.7 340.0,332.8 345.0,331.2 349.2,328.7 352.0,332.5 354.2,335.8 348.3,337.5 343.3,338.3 339.2,339.2 335.3,339.2 335.8,334.7M328.2,342.4 334.2,342.0 334.2,348.3 331.4,351.1M334.2,342.0 339.2,339.7 340.8,341.7 338.3,346.7 335.8,351.7 333.7,352.7M331.5,351.2 334.2,348.3 334.2,342.0M340.8,339.2 348.3,337.8 354.2,336.2 358.3,337.8 361.7,340.0 360.0,345.0 358.3,350.0 360.8,355.0 359.2,359.2 361.7,364.2 357.5,365.0 353.3,363.3 348.3,363.0 346.7,358.3 340.8,357.5 335.0,356.7 335.0,356.6M334.3,353.4 335.8,351.7 338.3,346.7 340.8,341.7 340.8,339.2M334.9,356.7 335.0,356.7 340.8,357.8 346.7,358.7 348.3,363.3 349.2,366.7 346.7,366.7 346.7,372.5 338.3,373.3 332.6,372.6M348.3,363.3 353.3,363.7 357.5,365.3 358.3,360.8 361.7,364.2 365.8,365.8 363.3,370.0 357.5,373.3 351.7,373.3 347.0,372.0 347.0,366.7 349.2,366.7 348.3,363.3M365.8,363.0 367.5,365.8 368.3,370.8 366.3,370.0 365.8,366.7 365.8,363.0M368.3,364.2 374.1,363.2M363.3,385.8 363.0,380.8 364.2,375.8 363.3,370.8 366.3,373.3 366.3,370.0 368.3,370.8 368.3,364.2M354.2,376.3 357.5,372.5 362.5,371.7 364.2,375.8 363.0,380.8 360.0,383.0 356.7,381.7 354.2,376.3M332.3,373.7 345.8,373.7 346.3,375.3 344.2,376.7 343.3,387.5 341.7,388.3 341.7,393.3M346.3,375.3 350.8,374.7 354.2,376.7 356.7,381.7 353.3,385.0 350.0,386.7 347.5,388.3 344.2,388.3 343.8,376.7 346.3,375.3M341.7,393.4 342.0,388.7 344.2,388.7 347.5,388.7 350.0,387.0 353.3,385.3 356.7,382.0 360.0,383.3 362.5,385.0 362.6,386.2M355.0,395.8 356.7,394.2 358.3,395.8 356.7,397.5 355.0,395.8M360.5,388.3 362.0,388.3M362.4,391.2 360.8,391.0 360.5,388.3M359.8,186.3 358.3,185.8 355.8,186.7 353.3,192.5 350.0,191.7 346.7,190.0 345.0,190.0 340.0,194.2 336.7,200.8 334.2,206.7 331.7,213.3 330.0,221.7 330.0,227.5 327.3,230.2M330.0,227.5 330.0,221.7 331.7,213.3 334.2,206.7 336.7,200.8 340.0,194.2 345.0,190.0 346.7,190.0 349.2,197.5 349.2,203.3M331.3,236.7 330.0,233.3 330.0,227.5M346.7,190.0 350.0,191.7 353.3,192.5 355.8,186.7 358.3,185.8 358.3,190.0 357.5,190.0 359.2,198.3 358.3,205.0 360.8,212.5 360.8,218.3 357.5,222.5 356.9,222.6M349.2,203.3 349.2,197.5 346.7,190.0M356.1,226.2 357.1,230.0 355.4,230.2 352.9,230.6 352.3,230.2M352.1,231.1 352.9,231.2 355.4,230.2 357.1,230.0 356.7,234.2 355.8,235.8 352.9,235.4 349.6,235.0 347.3,234.7M347.4,236.0 349.6,235.4 352.9,235.8 355.8,235.8 354.6,237.5 353.8,239.6 351.7,241.2 349.6,240.8 347.7,238.9M354.6,237.5 355.8,235.8 356.7,234.2 358.3,235.8 360.0,237.5 361.2,240.4 362.9,242.9 362.9,245.8 360.8,247.5 357.9,247.9 354.6,247.9 351.7,246.8 350.4,245.0 350.8,242.9 351.7,241.2 353.8,239.6 354.6,237.5M350.4,248.3 351.7,246.8 354.6,247.9 357.9,247.9 360.8,247.5 362.9,245.8 365.8,246.7 367.9,249.6 370.8,251.2 374.6,252.5 376.2,254.2 375.0,256.7 373.3,258.3 370.8,259.2 368.3,260.0 368.3,260.0M359.8,258.9 359.2,257.9 357.9,257.9 356.2,257.1 354.2,256.5 350.8,256.0 348.8,255.0 348.3,252.9 349.6,250.8 350.4,248.3M356.2,257.1 357.9,257.9 358.8,259.3M357.8,260.7 357.5,260.0 356.2,257.1M317.3,252.8 317.5,252.9 320.0,253.8 322.1,255.0 322.9,257.1 322.1,258.8 321.7,260.4 322.9,261.7 322.9,261.8 323.3,263.0 323.3,264.4M312.7,267.9 312.2,267.8M322.1,244.8 322.1,246.2 322.1,249.2 321.7,252.5 322.1,255.0 320.0,253.8 317.5,252.9 318.8,251.7 318.4,251.4M334.7,243.5 334.2,245.0 334.6,246.7 335.4,250.0 332.9,251.7 333.3,253.8 332.5,254.6 333.3,256.2 332.9,258.8 331.2,257.5 328.3,257.7 325.0,258.2 322.9,257.1 322.1,255.0 321.7,252.5 322.1,249.2 322.1,246.2 322.1,244.8M322.1,258.8 322.9,257.1 325.0,258.2 326.7,259.2 325.4,260.8 322.9,261.7 321.7,260.4 322.1,258.8M326.7,259.2 325.0,258.2 328.3,257.7 331.2,257.5 332.9,258.8 333.3,256.2 336.7,255.4 338.8,256.0 339.2,257.9 337.5,258.8 335.4,259.6 332.5,260.4 330.0,260.0 326.7,259.2M334.2,245.0 334.7,243.5M345.0,240.6 346.0,239.9M347.7,238.9 349.6,240.8 351.7,241.2 350.8,242.9 350.4,245.0 351.7,246.8 350.4,248.3 349.6,250.8 348.3,252.9 346.7,252.7 343.3,252.9 340.0,252.1 337.1,250.4 335.4,250.0 334.6,246.7 334.2,245.0M332.9,251.7 335.4,250.0 337.1,250.4 340.0,252.1 343.3,252.9 341.7,255.0 339.2,254.6 336.2,254.8 333.3,253.8 332.9,251.7M343.3,252.9 346.7,252.7 348.3,252.9 348.8,255.0 347.5,255.2 344.2,255.6 341.7,255.0 343.3,252.9M339.2,258.3 341.7,257.1 345.8,256.7 347.5,255.2 348.8,255.0 350.8,256.0 347.5,257.9 345.8,260.4 342.5,261.7 339.2,260.8 339.2,258.3M347.5,257.9 350.8,256.0 354.2,256.5 356.2,257.1 357.5,260.0 357.8,260.7M357.7,261.0 356.2,259.2 357.3,261.2M355.1,265.9 352.5,266.2 349.2,265.8 347.1,263.3 346.2,259.2 347.5,257.9M349.2,267.5 349.2,265.8 352.5,266.2 355.1,265.9M355.4,270.0 354.6,270.8 354.0,270.9M350.9,270.9 349.6,270.4 349.2,267.5M345.0,262.1 346.2,259.2 347.1,263.3 349.2,265.8 349.2,267.5 348.3,267.9 346.2,268.8 344.6,266.7 343.8,263.8 345.0,262.1M338.8,264.6 340.8,264.2 343.8,263.8 344.6,266.7 343.6,268.3M342.6,268.0 342.1,267.5 340.8,267.2M338.8,265.4 338.8,264.6M333.3,261.8 336.2,260.9 338.3,262.2 339.2,261.2 341.2,262.1 344.6,261.2 345.0,262.1 343.8,263.8 340.8,264.2 338.8,264.6 338.8,265.4M340.8,267.2 342.1,267.5 342.6,268.0M333.6,263.0 333.3,261.8M343.6,268.3 344.6,266.7 346.2,268.8 347.5,272.1 346.1,273.2M346.1,273.2 347.5,272.1 346.2,268.8 348.3,267.9 349.6,270.4 350.9,270.9M323.3,263.0 326.7,261.8 330.0,260.5 332.5,261.3 333.3,261.8 333.6,263.0M323.3,264.4 323.3,263.0M311.6,269.4 312.2,269.6M299.7,279.6 300.0,277.6 300.4,274.2 300.0,271.3 298.7,270.8M298.7,270.8 300.0,271.3 300.4,274.2 300.0,277.6 299.7,279.6" fill="none" stroke="#fff" stroke-width="0.9" stroke-linejoin="round" stroke-linecap="round" stroke-opacity="0.95"/>
<path d="M163.3,258.3 170.0,255.8 175.0,257.5 177.5,260.8 171.7,261.7 166.7,260.8Z" fill="#ffffff"/>
<path d="M170.0,263.0 173.3,263.0 172.8,270.0 170.3,270.8Z" fill="#ffffff"/>
<path d="M175.0,262.5 180.8,263.3 181.7,268.3 177.5,269.2Z" fill="#ffffff"/>
<path d="M179.2,270.5 189.2,267.2 195.0,263.7 195.3,264.7 190.0,268.3 181.7,271.7Z" fill="#ffffff"/>
</svg>
</body></html>
